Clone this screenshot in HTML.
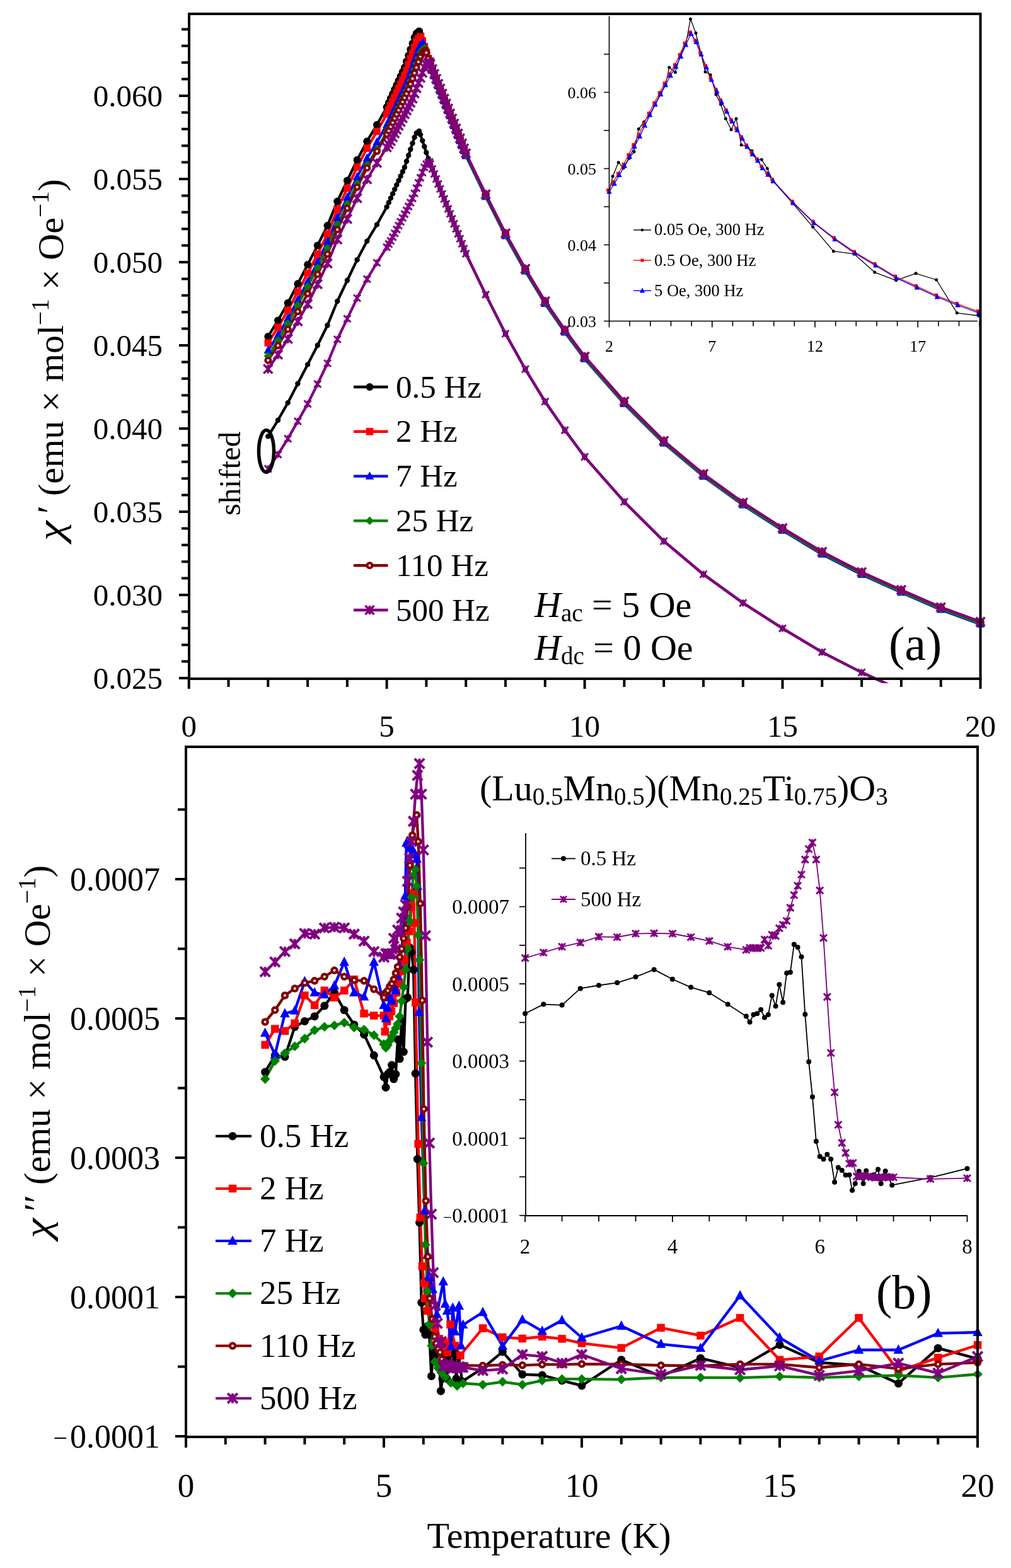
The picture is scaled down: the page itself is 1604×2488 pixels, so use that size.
<!DOCTYPE html>
<html><head><meta charset="utf-8"><style>
html,body{margin:0;padding:0;background:#fff;}
svg{display:block;}
text{font-family:"Liberation Serif","Times New Roman",serif;fill:#000;}
</style></head><body>
<svg width="1604" height="2488" viewBox="0 0 1604 2488">
<rect width="1604" height="2488" fill="#fff"/>
<defs><clipPath id="ctop"><rect x="302" y="24" width="1252" height="1060"/></clipPath><clipPath id="cbot"><rect x="297" y="1187" width="1252" height="1091"/></clipPath></defs>
<g clip-path="url(#ctop)"><polyline points="425.3,692.4 441,666.8 456.7,639.1 472.4,608.7 488.1,578.4 503.8,548 519.5,516.3 535.2,478 550.9,445 566.6,412.2 582.3,382.6 598,356.4 613.6,328.4 616.8,321.4 619.9,314.4 623.1,307.4 626.2,300.4 629.3,293.4 632.5,286.5 635.6,279.5 638.8,272.5 641.9,265.5 645,256 648.2,246.5 651.3,237 654.5,227.4 657.6,217.9 660.7,211.3 663.9,208.9 665.1,208 667,213.6 670.2,223.1 673.3,232.5 676.4,242 679.6,251.4 682.7,260.2 685.9,268.1 689,276 692.1,284 695.3,291.9 698.4,299.8 701.6,307.7 704.7,315.6 707.8,323.5 711,331.4 714.1,339.3 717.3,347.2 720.4,355.1 723.5,363 726.7,370.9 729.8,378.8 733,386.7 736.1,394.6 739.2,402.5 770.6,467.4 802,529.5 833.4,585.8 864.8,637.2 896.2,682.6 927.6,724.9 990.4,796.2 1053.2,858.7 1116,911.3 1178.8,956.7 1241.5,997.1 1304.3,1034.8 1367.1,1067 1429.9,1095.3 1492.7,1122.7 1555.5,1145.7" fill="none" stroke="#000000" stroke-width="4.2" stroke-linejoin="round" stroke-linecap="round"/></g>
<circle cx="425.3" cy="692.4" r="4.2" fill="#000000"/>
<circle cx="441" cy="666.8" r="4.2" fill="#000000"/>
<circle cx="456.7" cy="639.1" r="4.2" fill="#000000"/>
<circle cx="472.4" cy="608.7" r="4.2" fill="#000000"/>
<circle cx="488.1" cy="578.4" r="4.2" fill="#000000"/>
<circle cx="503.8" cy="548" r="4.2" fill="#000000"/>
<circle cx="519.5" cy="516.3" r="4.2" fill="#000000"/>
<circle cx="535.2" cy="478" r="4.2" fill="#000000"/>
<circle cx="550.9" cy="445" r="4.2" fill="#000000"/>
<circle cx="566.6" cy="412.2" r="4.2" fill="#000000"/>
<circle cx="582.3" cy="382.6" r="4.2" fill="#000000"/>
<circle cx="598" cy="356.4" r="4.2" fill="#000000"/>
<circle cx="613.6" cy="328.4" r="4.2" fill="#000000"/>
<circle cx="616.8" cy="321.4" r="4.2" fill="#000000"/>
<circle cx="619.9" cy="314.4" r="4.2" fill="#000000"/>
<circle cx="623.1" cy="307.4" r="4.2" fill="#000000"/>
<circle cx="626.2" cy="300.4" r="4.2" fill="#000000"/>
<circle cx="629.3" cy="293.4" r="4.2" fill="#000000"/>
<circle cx="632.5" cy="286.5" r="4.2" fill="#000000"/>
<circle cx="635.6" cy="279.5" r="4.2" fill="#000000"/>
<circle cx="638.8" cy="272.5" r="4.2" fill="#000000"/>
<circle cx="641.9" cy="265.5" r="4.2" fill="#000000"/>
<circle cx="645" cy="256" r="4.2" fill="#000000"/>
<circle cx="648.2" cy="246.5" r="4.2" fill="#000000"/>
<circle cx="651.3" cy="237" r="4.2" fill="#000000"/>
<circle cx="654.5" cy="227.4" r="4.2" fill="#000000"/>
<circle cx="657.6" cy="217.9" r="4.2" fill="#000000"/>
<circle cx="660.7" cy="211.3" r="4.2" fill="#000000"/>
<circle cx="663.9" cy="208.9" r="4.2" fill="#000000"/>
<circle cx="665.1" cy="208" r="4.2" fill="#000000"/>
<circle cx="667" cy="213.6" r="4.2" fill="#000000"/>
<circle cx="670.2" cy="223.1" r="4.2" fill="#000000"/>
<circle cx="673.3" cy="232.5" r="4.2" fill="#000000"/>
<circle cx="676.4" cy="242" r="4.2" fill="#000000"/>
<circle cx="679.6" cy="251.4" r="4.2" fill="#000000"/>
<circle cx="682.7" cy="260.2" r="4.2" fill="#000000"/>
<circle cx="685.9" cy="268.1" r="4.2" fill="#000000"/>
<circle cx="689" cy="276" r="4.2" fill="#000000"/>
<circle cx="692.1" cy="284" r="4.2" fill="#000000"/>
<circle cx="695.3" cy="291.9" r="4.2" fill="#000000"/>
<circle cx="698.4" cy="299.8" r="4.2" fill="#000000"/>
<circle cx="701.6" cy="307.7" r="4.2" fill="#000000"/>
<circle cx="704.7" cy="315.6" r="4.2" fill="#000000"/>
<circle cx="707.8" cy="323.5" r="4.2" fill="#000000"/>
<circle cx="711" cy="331.4" r="4.2" fill="#000000"/>
<circle cx="714.1" cy="339.3" r="4.2" fill="#000000"/>
<circle cx="717.3" cy="347.2" r="4.2" fill="#000000"/>
<circle cx="720.4" cy="355.1" r="4.2" fill="#000000"/>
<circle cx="723.5" cy="363" r="4.2" fill="#000000"/>
<circle cx="726.7" cy="370.9" r="4.2" fill="#000000"/>
<circle cx="729.8" cy="378.8" r="4.2" fill="#000000"/>
<circle cx="733" cy="386.7" r="4.2" fill="#000000"/>
<circle cx="736.1" cy="394.6" r="4.2" fill="#000000"/>
<circle cx="739.2" cy="402.5" r="4.2" fill="#000000"/>
<circle cx="770.6" cy="467.4" r="4.2" fill="#000000"/>
<circle cx="802" cy="529.5" r="4.2" fill="#000000"/>
<circle cx="833.4" cy="585.8" r="4.2" fill="#000000"/>
<circle cx="864.8" cy="637.2" r="4.2" fill="#000000"/>
<circle cx="896.2" cy="682.6" r="4.2" fill="#000000"/>
<circle cx="927.6" cy="724.9" r="4.2" fill="#000000"/>
<circle cx="990.4" cy="796.2" r="4.2" fill="#000000"/>
<circle cx="1053.2" cy="858.7" r="4.2" fill="#000000"/>
<circle cx="1116" cy="911.3" r="4.2" fill="#000000"/>
<circle cx="1178.8" cy="956.7" r="4.2" fill="#000000"/>
<circle cx="1241.5" cy="997.1" r="4.2" fill="#000000"/>
<circle cx="1304.3" cy="1034.8" r="4.2" fill="#000000"/>
<circle cx="1367.1" cy="1067" r="4.2" fill="#000000"/>
<g clip-path="url(#ctop)"><polyline points="425.3,743.9 441,721.1 456.7,696.1 472.4,668.5 488.1,640.9 503.8,609.4 519.5,576.5 535.2,538.5 550.9,505.8 566.6,473 582.3,442.9 598,417 613.6,392.2 616.8,387.3 619.9,382.3 623.1,376.3 626.2,370.2 629.3,364.1 632.5,358 635.6,351.9 638.8,345.8 641.9,339.7 645,333.7 648.2,327.6 651.3,321.5 654.5,314.9 657.6,306.7 660.7,298.5 663.9,290.2 667,282 670.2,273.8 673.3,265.5 676.4,260.6 679.6,258.4 681.5,257.1 682.7,260.2 685.9,268.1 689,276 692.1,284 695.3,291.9 698.4,299.8 701.6,307.7 704.7,315.6 707.8,323.5 711,331.4 714.1,339.3 717.3,347.2 720.4,355.1 723.5,363 726.7,370.9 729.8,378.8 733,386.7 736.1,394.6 739.2,402.5 770.6,467.4 802,529.5 833.4,585.8 864.8,637.2 896.2,682.6 927.6,724.9 990.4,796.2 1053.2,858.7 1116,911.3 1178.8,956.7 1241.5,997.1 1304.3,1034.8 1367.1,1067 1429.9,1095.3 1492.7,1122.7 1555.5,1145.7" fill="none" stroke="#800080" stroke-width="4.2" stroke-linejoin="round" stroke-linecap="round"/></g>
<path d="M419.8 738.4L430.8 749.4M430.8 738.4L419.8 749.4M425.3 738.4L425.3 749.4" stroke="#800080" stroke-width="2.9" fill="none"/>
<path d="M435.5 715.6L446.5 726.6M446.5 715.6L435.5 726.6M441 715.6L441 726.6" stroke="#800080" stroke-width="2.9" fill="none"/>
<path d="M451.2 690.6L462.2 701.6M462.2 690.6L451.2 701.6M456.7 690.6L456.7 701.6" stroke="#800080" stroke-width="2.9" fill="none"/>
<path d="M466.9 663L477.9 674M477.9 663L466.9 674M472.4 663L472.4 674" stroke="#800080" stroke-width="2.9" fill="none"/>
<path d="M482.6 635.4L493.6 646.4M493.6 635.4L482.6 646.4M488.1 635.4L488.1 646.4" stroke="#800080" stroke-width="2.9" fill="none"/>
<path d="M498.3 603.9L509.3 614.9M509.3 603.9L498.3 614.9M503.8 603.9L503.8 614.9" stroke="#800080" stroke-width="2.9" fill="none"/>
<path d="M514 571L525 582M525 571L514 582M519.5 571L519.5 582" stroke="#800080" stroke-width="2.9" fill="none"/>
<path d="M529.7 533L540.7 544M540.7 533L529.7 544M535.2 533L535.2 544" stroke="#800080" stroke-width="2.9" fill="none"/>
<path d="M545.4 500.3L556.4 511.3M556.4 500.3L545.4 511.3M550.9 500.3L550.9 511.3" stroke="#800080" stroke-width="2.9" fill="none"/>
<path d="M561.1 467.5L572.1 478.5M572.1 467.5L561.1 478.5M566.6 467.5L566.6 478.5" stroke="#800080" stroke-width="2.9" fill="none"/>
<path d="M576.8 437.4L587.8 448.4M587.8 437.4L576.8 448.4M582.3 437.4L582.3 448.4" stroke="#800080" stroke-width="2.9" fill="none"/>
<path d="M592.5 411.5L603.5 422.5M603.5 411.5L592.5 422.5M598 411.5L598 422.5" stroke="#800080" stroke-width="2.9" fill="none"/>
<path d="M608.1 386.7L619.1 397.7M619.1 386.7L608.1 397.7M613.6 386.7L613.6 397.7" stroke="#800080" stroke-width="2.9" fill="none"/>
<path d="M611.3 381.8L622.3 392.8M622.3 381.8L611.3 392.8M616.8 381.8L616.8 392.8" stroke="#800080" stroke-width="2.9" fill="none"/>
<path d="M614.4 376.8L625.4 387.8M625.4 376.8L614.4 387.8M619.9 376.8L619.9 387.8" stroke="#800080" stroke-width="2.9" fill="none"/>
<path d="M617.6 370.8L628.6 381.8M628.6 370.8L617.6 381.8M623.1 370.8L623.1 381.8" stroke="#800080" stroke-width="2.9" fill="none"/>
<path d="M620.7 364.7L631.7 375.7M631.7 364.7L620.7 375.7M626.2 364.7L626.2 375.7" stroke="#800080" stroke-width="2.9" fill="none"/>
<path d="M623.8 358.6L634.8 369.6M634.8 358.6L623.8 369.6M629.3 358.6L629.3 369.6" stroke="#800080" stroke-width="2.9" fill="none"/>
<path d="M627 352.5L638 363.5M638 352.5L627 363.5M632.5 352.5L632.5 363.5" stroke="#800080" stroke-width="2.9" fill="none"/>
<path d="M630.1 346.4L641.1 357.4M641.1 346.4L630.1 357.4M635.6 346.4L635.6 357.4" stroke="#800080" stroke-width="2.9" fill="none"/>
<path d="M633.3 340.3L644.3 351.3M644.3 340.3L633.3 351.3M638.8 340.3L638.8 351.3" stroke="#800080" stroke-width="2.9" fill="none"/>
<path d="M636.4 334.2L647.4 345.2M647.4 334.2L636.4 345.2M641.9 334.2L641.9 345.2" stroke="#800080" stroke-width="2.9" fill="none"/>
<path d="M639.5 328.2L650.5 339.2M650.5 328.2L639.5 339.2M645 328.2L645 339.2" stroke="#800080" stroke-width="2.9" fill="none"/>
<path d="M642.7 322.1L653.7 333.1M653.7 322.1L642.7 333.1M648.2 322.1L648.2 333.1" stroke="#800080" stroke-width="2.9" fill="none"/>
<path d="M645.8 316L656.8 327M656.8 316L645.8 327M651.3 316L651.3 327" stroke="#800080" stroke-width="2.9" fill="none"/>
<path d="M649 309.4L660 320.4M660 309.4L649 320.4M654.5 309.4L654.5 320.4" stroke="#800080" stroke-width="2.9" fill="none"/>
<path d="M652.1 301.2L663.1 312.2M663.1 301.2L652.1 312.2M657.6 301.2L657.6 312.2" stroke="#800080" stroke-width="2.9" fill="none"/>
<path d="M655.2 293L666.2 304M666.2 293L655.2 304M660.7 293L660.7 304" stroke="#800080" stroke-width="2.9" fill="none"/>
<path d="M658.4 284.7L669.4 295.7M669.4 284.7L658.4 295.7M663.9 284.7L663.9 295.7" stroke="#800080" stroke-width="2.9" fill="none"/>
<path d="M661.5 276.5L672.5 287.5M672.5 276.5L661.5 287.5M667 276.5L667 287.5" stroke="#800080" stroke-width="2.9" fill="none"/>
<path d="M664.7 268.3L675.7 279.3M675.7 268.3L664.7 279.3M670.2 268.3L670.2 279.3" stroke="#800080" stroke-width="2.9" fill="none"/>
<path d="M667.8 260L678.8 271M678.8 260L667.8 271M673.3 260L673.3 271" stroke="#800080" stroke-width="2.9" fill="none"/>
<path d="M670.9 255.1L681.9 266.1M681.9 255.1L670.9 266.1M676.4 255.1L676.4 266.1" stroke="#800080" stroke-width="2.9" fill="none"/>
<path d="M674.1 252.9L685.1 263.9M685.1 252.9L674.1 263.9M679.6 252.9L679.6 263.9" stroke="#800080" stroke-width="2.9" fill="none"/>
<path d="M676 251.6L687 262.6M687 251.6L676 262.6M681.5 251.6L681.5 262.6" stroke="#800080" stroke-width="2.9" fill="none"/>
<path d="M677.2 254.7L688.2 265.7M688.2 254.7L677.2 265.7M682.7 254.7L682.7 265.7" stroke="#800080" stroke-width="2.9" fill="none"/>
<path d="M680.4 262.6L691.4 273.6M691.4 262.6L680.4 273.6M685.9 262.6L685.9 273.6" stroke="#800080" stroke-width="2.9" fill="none"/>
<path d="M683.5 270.5L694.5 281.5M694.5 270.5L683.5 281.5M689 270.5L689 281.5" stroke="#800080" stroke-width="2.9" fill="none"/>
<path d="M686.6 278.5L697.6 289.5M697.6 278.5L686.6 289.5M692.1 278.5L692.1 289.5" stroke="#800080" stroke-width="2.9" fill="none"/>
<path d="M689.8 286.4L700.8 297.4M700.8 286.4L689.8 297.4M695.3 286.4L695.3 297.4" stroke="#800080" stroke-width="2.9" fill="none"/>
<path d="M692.9 294.3L703.9 305.3M703.9 294.3L692.9 305.3M698.4 294.3L698.4 305.3" stroke="#800080" stroke-width="2.9" fill="none"/>
<path d="M696.1 302.2L707.1 313.2M707.1 302.2L696.1 313.2M701.6 302.2L701.6 313.2" stroke="#800080" stroke-width="2.9" fill="none"/>
<path d="M699.2 310.1L710.2 321.1M710.2 310.1L699.2 321.1M704.7 310.1L704.7 321.1" stroke="#800080" stroke-width="2.9" fill="none"/>
<path d="M702.3 318L713.3 329M713.3 318L702.3 329M707.8 318L707.8 329" stroke="#800080" stroke-width="2.9" fill="none"/>
<path d="M705.5 325.9L716.5 336.9M716.5 325.9L705.5 336.9M711 325.9L711 336.9" stroke="#800080" stroke-width="2.9" fill="none"/>
<path d="M708.6 333.8L719.6 344.8M719.6 333.8L708.6 344.8M714.1 333.8L714.1 344.8" stroke="#800080" stroke-width="2.9" fill="none"/>
<path d="M711.8 341.7L722.8 352.7M722.8 341.7L711.8 352.7M717.3 341.7L717.3 352.7" stroke="#800080" stroke-width="2.9" fill="none"/>
<path d="M714.9 349.6L725.9 360.6M725.9 349.6L714.9 360.6M720.4 349.6L720.4 360.6" stroke="#800080" stroke-width="2.9" fill="none"/>
<path d="M718 357.5L729 368.5M729 357.5L718 368.5M723.5 357.5L723.5 368.5" stroke="#800080" stroke-width="2.9" fill="none"/>
<path d="M721.2 365.4L732.2 376.4M732.2 365.4L721.2 376.4M726.7 365.4L726.7 376.4" stroke="#800080" stroke-width="2.9" fill="none"/>
<path d="M724.3 373.3L735.3 384.3M735.3 373.3L724.3 384.3M729.8 373.3L729.8 384.3" stroke="#800080" stroke-width="2.9" fill="none"/>
<path d="M727.5 381.2L738.5 392.2M738.5 381.2L727.5 392.2M733 381.2L733 392.2" stroke="#800080" stroke-width="2.9" fill="none"/>
<path d="M730.6 389.1L741.6 400.1M741.6 389.1L730.6 400.1M736.1 389.1L736.1 400.1" stroke="#800080" stroke-width="2.9" fill="none"/>
<path d="M733.7 397L744.7 408M744.7 397L733.7 408M739.2 397L739.2 408" stroke="#800080" stroke-width="2.9" fill="none"/>
<path d="M765.1 461.9L776.1 472.9M776.1 461.9L765.1 472.9M770.6 461.9L770.6 472.9" stroke="#800080" stroke-width="2.9" fill="none"/>
<path d="M796.5 524L807.5 535M807.5 524L796.5 535M802 524L802 535" stroke="#800080" stroke-width="2.9" fill="none"/>
<path d="M827.9 580.3L838.9 591.3M838.9 580.3L827.9 591.3M833.4 580.3L833.4 591.3" stroke="#800080" stroke-width="2.9" fill="none"/>
<path d="M859.3 631.7L870.3 642.7M870.3 631.7L859.3 642.7M864.8 631.7L864.8 642.7" stroke="#800080" stroke-width="2.9" fill="none"/>
<path d="M890.7 677.1L901.7 688.1M901.7 677.1L890.7 688.1M896.2 677.1L896.2 688.1" stroke="#800080" stroke-width="2.9" fill="none"/>
<path d="M922.1 719.4L933.1 730.4M933.1 719.4L922.1 730.4M927.6 719.4L927.6 730.4" stroke="#800080" stroke-width="2.9" fill="none"/>
<path d="M984.9 790.7L995.9 801.7M995.9 790.7L984.9 801.7M990.4 790.7L990.4 801.7" stroke="#800080" stroke-width="2.9" fill="none"/>
<path d="M1047.7 853.2L1058.7 864.2M1058.7 853.2L1047.7 864.2M1053.2 853.2L1053.2 864.2" stroke="#800080" stroke-width="2.9" fill="none"/>
<path d="M1110.5 905.8L1121.5 916.8M1121.5 905.8L1110.5 916.8M1116 905.8L1116 916.8" stroke="#800080" stroke-width="2.9" fill="none"/>
<path d="M1173.3 951.2L1184.3 962.2M1184.3 951.2L1173.3 962.2M1178.8 951.2L1178.8 962.2" stroke="#800080" stroke-width="2.9" fill="none"/>
<path d="M1236 991.6L1247 1002.6M1247 991.6L1236 1002.6M1241.5 991.6L1241.5 1002.6" stroke="#800080" stroke-width="2.9" fill="none"/>
<path d="M1298.8 1029.3L1309.8 1040.3M1309.8 1029.3L1298.8 1040.3M1304.3 1029.3L1304.3 1040.3" stroke="#800080" stroke-width="2.9" fill="none"/>
<path d="M1361.6 1061.5L1372.6 1072.5M1372.6 1061.5L1361.6 1072.5M1367.1 1061.5L1367.1 1072.5" stroke="#800080" stroke-width="2.9" fill="none"/>
<polyline points="425.3,534 441,508.4 456.7,480.7 472.4,450.3 488.1,420 503.8,389.6 519.5,357.9 535.2,319.6 550.9,286.6 566.6,253.8 582.3,224.2 598,198 613.6,170 616.8,163 619.9,156 623.1,149 626.2,142 629.3,135 632.5,128.1 635.6,121.1 638.8,114.1 641.9,107.1 645,97.6 648.2,88.1 651.3,78.6 654.5,69 657.6,59.5 660.7,52.9 663.9,50.5 665.1,49.6 667,55.2 670.2,64.7 673.3,74.1 676.4,83.6 679.6,93 682.7,101.8 685.9,109.7 689,117.6 692.1,125.6 695.3,133.5 698.4,141.4 701.6,149.3 704.7,157.2 707.8,165.1 711,173 714.1,180.9 717.3,188.8 720.4,196.7 723.5,204.6 726.7,212.5 729.8,220.4 733,228.3 736.1,236.2 739.2,244.1 770.6,309 802,371.1 833.4,427.4 864.8,478.8 896.2,524.2 927.6,566.5 990.4,637.8 1053.2,700.3 1116,752.9 1178.8,798.3 1241.5,838.7 1304.3,876.4 1367.1,908.6 1429.9,936.9 1492.7,964.3 1555.5,987.3" fill="none" stroke="#000000" stroke-width="4.2" stroke-linejoin="round" stroke-linecap="round"/>
<polyline points="425.3,544 441,519.4 456.7,492.6 472.4,463.1 488.1,433.7 503.8,403.2 519.5,371.4 535.2,332.4 550.9,298.7 566.6,265.4 582.3,235.2 598,208.6 613.6,181.1 616.8,174.4 619.9,167.6 623.1,160.8 626.2,154 629.3,147.2 632.5,140.4 635.6,133.6 638.8,126.8 641.9,120 645,111.9 648.2,102.6 651.3,93.4 654.5,84.2 657.6,74.9 660.7,65.7 663.9,61.1 667,58.8 667.6,58.3 670.2,64.6 673.3,74 676.4,83.3 679.6,92.7 682.7,101.4 685.9,109.2 689,117.1 692.1,125 695.3,132.9 698.4,140.8 701.6,148.7 704.7,156.6 707.8,164.6 711,172.5 714.1,180.4 717.3,188.3 720.4,196.2 723.5,204.1 726.7,212 729.8,219.9 733,227.8 736.1,235.7 739.2,243.6 770.6,308.5 802,370.6 833.4,426.8 864.8,478.3 896.2,523.7 927.6,566 990.4,637.2 1053.2,699.8 1116,752.3 1178.8,797.7 1241.5,838.1 1304.3,875.9 1367.1,908.1 1429.9,936.3 1492.7,963.8 1555.5,986.8" fill="none" stroke="#ff0000" stroke-width="4.2" stroke-linejoin="round" stroke-linecap="round"/>
<polyline points="425.3,555.9 441,531.6 456.7,505.2 472.4,476.2 488.1,447.2 503.8,416 519.5,383.5 535.2,345.8 550.9,313.3 566.6,280.7 582.3,251 598,225.4 613.6,197.9 616.8,192.4 619.9,185.8 623.1,179 626.2,172.2 629.3,165.4 632.5,158.6 635.6,151.7 638.8,144.9 641.9,138.1 645,131.3 648.2,123.6 651.3,114.4 654.5,105.1 657.6,95.9 660.7,86.7 663.9,77.5 667,71.7 670.2,69.3 671.4,68.3 673.3,74.4 676.4,84.4 679.6,94.4 682.7,103.7 685.9,112.2 689,120.6 692.1,128.7 695.3,136.6 698.4,144.5 701.6,152.4 704.7,160.3 707.8,168.2 711,176.2 714.1,184.1 717.3,192 720.4,199.9 723.5,207.8 726.7,215.7 729.8,223.6 733,231.5 736.1,239.4 739.2,247.3 770.6,312.2 802,374.3 833.4,430.5 864.8,482 896.2,527.4 927.6,569.6 990.4,640.9 1053.2,703.5 1116,756 1178.8,801.4 1241.5,841.8 1304.3,879.6 1367.1,911.8 1429.9,940 1492.7,967.5 1555.5,990.5" fill="none" stroke="#0000ff" stroke-width="4.2" stroke-linejoin="round" stroke-linecap="round"/>
<polyline points="425.3,564.9 441,540.2 456.7,513.4 472.4,484 488.1,454.5 503.8,424.7 519.5,393.6 535.2,356.1 550.9,323.8 566.6,291.5 582.3,262 598,236.7 613.6,209.4 616.8,203.9 619.9,197.6 623.1,190.9 626.2,184.1 629.3,177.4 632.5,170.7 635.6,164 638.8,157.2 641.9,150.5 645,143.8 648.2,137 651.3,128.3 654.5,119.2 657.6,110.2 660.7,101.1 663.9,92 667,83 670.2,78.9 673.3,76.5 673.9,76 676.4,83.8 679.6,93.6 682.7,102.8 685.9,111.1 689,119.3 692.1,127.6 695.3,135.6 698.4,143.5 701.6,151.4 704.7,159.3 707.8,167.2 711,175.1 714.1,183 717.3,190.9 720.4,198.8 723.5,206.7 726.7,214.6 729.8,222.5 733,230.4 736.1,238.3 739.2,246.2 770.6,311.1 802,373.2 833.4,429.5 864.8,480.9 896.2,526.4 927.6,568.6 990.4,639.9 1053.2,702.4 1116,755 1178.8,800.4 1241.5,840.8 1304.3,878.5 1367.1,910.7 1429.9,939 1492.7,966.4 1555.5,989.4" fill="none" stroke="#008000" stroke-width="4.2" stroke-linejoin="round" stroke-linecap="round"/>
<polyline points="425.3,571.8 441,548.2 456.7,522.5 472.4,494.2 488.1,465.9 503.8,435.3 519.5,403.3 535.2,364.3 550.9,330.5 566.6,296.9 582.3,266.5 598,239.9 613.6,213.1 616.8,207.5 619.9,200.9 623.1,194.4 626.2,187.8 629.3,181.3 632.5,174.7 635.6,168.2 638.8,161.6 641.9,155 645,148.5 648.2,141.9 651.3,133.4 654.5,124.7 657.6,115.9 660.7,107.1 663.9,98.3 667,89.6 670.2,83.7 673.3,81.2 675.2,79.7 676.4,83.5 679.6,92.9 682.7,101.6 685.9,109.4 689,117.3 692.1,125.1 695.3,132.9 698.4,140.8 701.6,148.7 704.7,156.6 707.8,164.6 711,172.5 714.1,180.4 717.3,188.3 720.4,196.2 723.5,204.1 726.7,212 729.8,219.9 733,227.8 736.1,235.7 739.2,243.6 770.6,308.5 802,370.6 833.4,426.8 864.8,478.3 896.2,523.7 927.6,566 990.4,637.2 1053.2,699.8 1116,752.3 1178.8,797.7 1241.5,838.1 1304.3,875.9 1367.1,908.1 1429.9,936.3 1492.7,963.8 1555.5,986.8" fill="none" stroke="#800000" stroke-width="4.2" stroke-linejoin="round" stroke-linecap="round"/>
<polyline points="425.3,585.5 441,562.7 456.7,537.7 472.4,510.1 488.1,482.5 503.8,451 519.5,418.1 535.2,380.1 550.9,347.4 566.6,314.6 582.3,284.5 598,258.6 613.6,233.8 616.8,228.9 619.9,223.9 623.1,217.9 626.2,211.8 629.3,205.7 632.5,199.6 635.6,193.5 638.8,187.4 641.9,181.3 645,175.3 648.2,169.2 651.3,163.1 654.5,156.5 657.6,148.3 660.7,140.1 663.9,131.8 667,123.6 670.2,115.4 673.3,107.1 676.4,102.2 679.6,100 681.5,98.7 682.7,101.8 685.9,109.6 689,117.3 692.1,125.1 695.3,132.9 698.4,140.6 701.6,148.5 704.7,156.4 707.8,164.3 711,172.2 714.1,180.1 717.3,188 720.4,195.9 723.5,203.8 726.7,211.7 729.8,219.6 733,227.5 736.1,235.4 739.2,243.3 770.6,308.2 802,370.3 833.4,426.6 864.8,478 896.2,523.4 927.6,565.7 990.4,637 1053.2,699.5 1116,752.1 1178.8,797.5 1241.5,837.9 1304.3,875.6 1367.1,907.8 1429.9,936.1 1492.7,963.5 1555.5,986.5" fill="none" stroke="#800080" stroke-width="4.2" stroke-linejoin="round" stroke-linecap="round"/>
<circle cx="425.3" cy="534" r="6" fill="#000000"/>
<circle cx="441" cy="508.4" r="6" fill="#000000"/>
<circle cx="456.7" cy="480.7" r="6" fill="#000000"/>
<circle cx="472.4" cy="450.3" r="6" fill="#000000"/>
<circle cx="488.1" cy="420" r="6" fill="#000000"/>
<circle cx="503.8" cy="389.6" r="6" fill="#000000"/>
<circle cx="519.5" cy="357.9" r="6" fill="#000000"/>
<circle cx="535.2" cy="319.6" r="6" fill="#000000"/>
<circle cx="550.9" cy="286.6" r="6" fill="#000000"/>
<circle cx="566.6" cy="253.8" r="6" fill="#000000"/>
<circle cx="582.3" cy="224.2" r="6" fill="#000000"/>
<circle cx="598" cy="198" r="6" fill="#000000"/>
<circle cx="613.6" cy="170" r="6" fill="#000000"/>
<circle cx="616.8" cy="163" r="6" fill="#000000"/>
<circle cx="619.9" cy="156" r="6" fill="#000000"/>
<circle cx="623.1" cy="149" r="6" fill="#000000"/>
<circle cx="626.2" cy="142" r="6" fill="#000000"/>
<circle cx="629.3" cy="135" r="6" fill="#000000"/>
<circle cx="632.5" cy="128.1" r="6" fill="#000000"/>
<circle cx="635.6" cy="121.1" r="6" fill="#000000"/>
<circle cx="638.8" cy="114.1" r="6" fill="#000000"/>
<circle cx="641.9" cy="107.1" r="6" fill="#000000"/>
<circle cx="645" cy="97.6" r="6" fill="#000000"/>
<circle cx="648.2" cy="88.1" r="6" fill="#000000"/>
<circle cx="651.3" cy="78.6" r="6" fill="#000000"/>
<circle cx="654.5" cy="69" r="6" fill="#000000"/>
<circle cx="657.6" cy="59.5" r="6" fill="#000000"/>
<circle cx="660.7" cy="52.9" r="6" fill="#000000"/>
<circle cx="663.9" cy="50.5" r="6" fill="#000000"/>
<circle cx="665.1" cy="49.6" r="6" fill="#000000"/>
<circle cx="667" cy="55.2" r="6" fill="#000000"/>
<circle cx="670.2" cy="64.7" r="6" fill="#000000"/>
<circle cx="673.3" cy="74.1" r="6" fill="#000000"/>
<circle cx="676.4" cy="83.6" r="6" fill="#000000"/>
<circle cx="679.6" cy="93" r="6" fill="#000000"/>
<circle cx="682.7" cy="101.8" r="6" fill="#000000"/>
<circle cx="685.9" cy="109.7" r="6" fill="#000000"/>
<circle cx="689" cy="117.6" r="6" fill="#000000"/>
<circle cx="692.1" cy="125.6" r="6" fill="#000000"/>
<circle cx="695.3" cy="133.5" r="6" fill="#000000"/>
<circle cx="698.4" cy="141.4" r="6" fill="#000000"/>
<circle cx="701.6" cy="149.3" r="6" fill="#000000"/>
<circle cx="704.7" cy="157.2" r="6" fill="#000000"/>
<circle cx="707.8" cy="165.1" r="6" fill="#000000"/>
<circle cx="711" cy="173" r="6" fill="#000000"/>
<circle cx="714.1" cy="180.9" r="6" fill="#000000"/>
<circle cx="717.3" cy="188.8" r="6" fill="#000000"/>
<circle cx="720.4" cy="196.7" r="6" fill="#000000"/>
<circle cx="723.5" cy="204.6" r="6" fill="#000000"/>
<circle cx="726.7" cy="212.5" r="6" fill="#000000"/>
<circle cx="729.8" cy="220.4" r="6" fill="#000000"/>
<circle cx="733" cy="228.3" r="6" fill="#000000"/>
<circle cx="736.1" cy="236.2" r="6" fill="#000000"/>
<circle cx="739.2" cy="244.1" r="6" fill="#000000"/>
<circle cx="770.6" cy="309" r="6" fill="#000000"/>
<circle cx="802" cy="371.1" r="6" fill="#000000"/>
<circle cx="833.4" cy="427.4" r="6" fill="#000000"/>
<circle cx="864.8" cy="478.8" r="6" fill="#000000"/>
<circle cx="896.2" cy="524.2" r="6" fill="#000000"/>
<circle cx="927.6" cy="566.5" r="6" fill="#000000"/>
<circle cx="990.4" cy="637.8" r="6" fill="#000000"/>
<circle cx="1053.2" cy="700.3" r="6" fill="#000000"/>
<circle cx="1116" cy="752.9" r="6" fill="#000000"/>
<circle cx="1178.8" cy="798.3" r="6" fill="#000000"/>
<circle cx="1241.5" cy="838.7" r="6" fill="#000000"/>
<circle cx="1304.3" cy="876.4" r="6" fill="#000000"/>
<circle cx="1367.1" cy="908.6" r="6" fill="#000000"/>
<circle cx="1429.9" cy="936.9" r="6" fill="#000000"/>
<circle cx="1492.7" cy="964.3" r="6" fill="#000000"/>
<circle cx="1555.5" cy="987.3" r="6" fill="#000000"/>
<rect x="419.5" y="538.3" width="11.5" height="11.5" fill="#ff0000"/>
<rect x="435.2" y="513.6" width="11.5" height="11.5" fill="#ff0000"/>
<rect x="450.9" y="486.8" width="11.5" height="11.5" fill="#ff0000"/>
<rect x="466.6" y="457.4" width="11.5" height="11.5" fill="#ff0000"/>
<rect x="482.3" y="427.9" width="11.5" height="11.5" fill="#ff0000"/>
<rect x="498" y="397.4" width="11.5" height="11.5" fill="#ff0000"/>
<rect x="513.7" y="365.6" width="11.5" height="11.5" fill="#ff0000"/>
<rect x="529.4" y="326.7" width="11.5" height="11.5" fill="#ff0000"/>
<rect x="545.1" y="293" width="11.5" height="11.5" fill="#ff0000"/>
<rect x="560.8" y="259.6" width="11.5" height="11.5" fill="#ff0000"/>
<rect x="576.5" y="229.5" width="11.5" height="11.5" fill="#ff0000"/>
<rect x="592.2" y="202.8" width="11.5" height="11.5" fill="#ff0000"/>
<rect x="607.9" y="175.4" width="11.5" height="11.5" fill="#ff0000"/>
<rect x="611" y="168.6" width="11.5" height="11.5" fill="#ff0000"/>
<rect x="614.2" y="161.8" width="11.5" height="11.5" fill="#ff0000"/>
<rect x="617.3" y="155" width="11.5" height="11.5" fill="#ff0000"/>
<rect x="620.5" y="148.2" width="11.5" height="11.5" fill="#ff0000"/>
<rect x="623.6" y="141.4" width="11.5" height="11.5" fill="#ff0000"/>
<rect x="626.7" y="134.6" width="11.5" height="11.5" fill="#ff0000"/>
<rect x="629.9" y="127.8" width="11.5" height="11.5" fill="#ff0000"/>
<rect x="633" y="121" width="11.5" height="11.5" fill="#ff0000"/>
<rect x="636.2" y="114.2" width="11.5" height="11.5" fill="#ff0000"/>
<rect x="639.3" y="106.1" width="11.5" height="11.5" fill="#ff0000"/>
<rect x="642.4" y="96.9" width="11.5" height="11.5" fill="#ff0000"/>
<rect x="645.6" y="87.6" width="11.5" height="11.5" fill="#ff0000"/>
<rect x="648.7" y="78.4" width="11.5" height="11.5" fill="#ff0000"/>
<rect x="651.9" y="69.2" width="11.5" height="11.5" fill="#ff0000"/>
<rect x="655" y="59.9" width="11.5" height="11.5" fill="#ff0000"/>
<rect x="658.1" y="55.4" width="11.5" height="11.5" fill="#ff0000"/>
<rect x="661.3" y="53" width="11.5" height="11.5" fill="#ff0000"/>
<rect x="661.9" y="52.5" width="11.5" height="11.5" fill="#ff0000"/>
<rect x="664.4" y="58.9" width="11.5" height="11.5" fill="#ff0000"/>
<rect x="667.6" y="68.2" width="11.5" height="11.5" fill="#ff0000"/>
<rect x="670.7" y="77.6" width="11.5" height="11.5" fill="#ff0000"/>
<rect x="673.8" y="86.9" width="11.5" height="11.5" fill="#ff0000"/>
<rect x="677" y="95.7" width="11.5" height="11.5" fill="#ff0000"/>
<rect x="680.1" y="103.5" width="11.5" height="11.5" fill="#ff0000"/>
<rect x="683.2" y="111.4" width="11.5" height="11.5" fill="#ff0000"/>
<rect x="686.4" y="119.3" width="11.5" height="11.5" fill="#ff0000"/>
<rect x="689.5" y="127.2" width="11.5" height="11.5" fill="#ff0000"/>
<rect x="692.7" y="135.1" width="11.5" height="11.5" fill="#ff0000"/>
<rect x="695.8" y="143" width="11.5" height="11.5" fill="#ff0000"/>
<rect x="698.9" y="150.9" width="11.5" height="11.5" fill="#ff0000"/>
<rect x="702.1" y="158.8" width="11.5" height="11.5" fill="#ff0000"/>
<rect x="705.2" y="166.7" width="11.5" height="11.5" fill="#ff0000"/>
<rect x="708.4" y="174.6" width="11.5" height="11.5" fill="#ff0000"/>
<rect x="711.5" y="182.5" width="11.5" height="11.5" fill="#ff0000"/>
<rect x="714.6" y="190.4" width="11.5" height="11.5" fill="#ff0000"/>
<rect x="717.8" y="198.3" width="11.5" height="11.5" fill="#ff0000"/>
<rect x="720.9" y="206.2" width="11.5" height="11.5" fill="#ff0000"/>
<rect x="724.1" y="214.1" width="11.5" height="11.5" fill="#ff0000"/>
<rect x="727.2" y="222" width="11.5" height="11.5" fill="#ff0000"/>
<rect x="730.3" y="230" width="11.5" height="11.5" fill="#ff0000"/>
<rect x="733.5" y="237.9" width="11.5" height="11.5" fill="#ff0000"/>
<rect x="764.9" y="302.7" width="11.5" height="11.5" fill="#ff0000"/>
<rect x="796.3" y="364.8" width="11.5" height="11.5" fill="#ff0000"/>
<rect x="827.7" y="421.1" width="11.5" height="11.5" fill="#ff0000"/>
<rect x="859.1" y="472.6" width="11.5" height="11.5" fill="#ff0000"/>
<rect x="890.5" y="518" width="11.5" height="11.5" fill="#ff0000"/>
<rect x="921.8" y="560.2" width="11.5" height="11.5" fill="#ff0000"/>
<rect x="984.6" y="631.5" width="11.5" height="11.5" fill="#ff0000"/>
<rect x="1047.4" y="694" width="11.5" height="11.5" fill="#ff0000"/>
<rect x="1110.2" y="746.6" width="11.5" height="11.5" fill="#ff0000"/>
<rect x="1173" y="792" width="11.5" height="11.5" fill="#ff0000"/>
<rect x="1235.8" y="832.4" width="11.5" height="11.5" fill="#ff0000"/>
<rect x="1298.6" y="870.1" width="11.5" height="11.5" fill="#ff0000"/>
<rect x="1361.4" y="902.3" width="11.5" height="11.5" fill="#ff0000"/>
<rect x="1424.2" y="930.6" width="11.5" height="11.5" fill="#ff0000"/>
<rect x="1487" y="958" width="11.5" height="11.5" fill="#ff0000"/>
<rect x="1549.8" y="981" width="11.5" height="11.5" fill="#ff0000"/>
<polygon points="425.3,548.2 418.5,561.1 432,561.1" fill="#0000ff"/>
<polygon points="441,523.9 434.2,536.8 447.7,536.8" fill="#0000ff"/>
<polygon points="456.7,497.5 449.9,510.4 463.4,510.4" fill="#0000ff"/>
<polygon points="472.4,468.5 465.6,481.3 479.1,481.3" fill="#0000ff"/>
<polygon points="488.1,439.5 481.3,452.3 494.8,452.3" fill="#0000ff"/>
<polygon points="503.8,408.3 497,421.1 510.5,421.1" fill="#0000ff"/>
<polygon points="519.5,375.8 512.7,388.7 526.2,388.7" fill="#0000ff"/>
<polygon points="535.2,338.1 528.4,350.9 541.9,350.9" fill="#0000ff"/>
<polygon points="550.9,305.6 544.1,318.4 557.6,318.4" fill="#0000ff"/>
<polygon points="566.6,273 559.8,285.9 573.3,285.9" fill="#0000ff"/>
<polygon points="582.3,243.3 575.5,256.1 589,256.1" fill="#0000ff"/>
<polygon points="598,217.7 591.2,230.5 604.7,230.5" fill="#0000ff"/>
<polygon points="613.6,190.2 606.9,203.1 620.4,203.1" fill="#0000ff"/>
<polygon points="616.8,184.7 610,197.6 623.5,197.6" fill="#0000ff"/>
<polygon points="619.9,178.1 613.2,190.9 626.7,190.9" fill="#0000ff"/>
<polygon points="623.1,171.3 616.3,184.1 629.8,184.1" fill="#0000ff"/>
<polygon points="626.2,164.5 619.5,177.3 633,177.3" fill="#0000ff"/>
<polygon points="629.3,157.7 622.6,170.5 636.1,170.5" fill="#0000ff"/>
<polygon points="632.5,150.9 625.7,163.7 639.2,163.7" fill="#0000ff"/>
<polygon points="635.6,144.1 628.9,156.9 642.4,156.9" fill="#0000ff"/>
<polygon points="638.8,137.3 632,150.1 645.5,150.1" fill="#0000ff"/>
<polygon points="641.9,130.4 635.2,143.3 648.7,143.3" fill="#0000ff"/>
<polygon points="645,123.6 638.3,136.5 651.8,136.5" fill="#0000ff"/>
<polygon points="648.2,115.9 641.4,128.7 654.9,128.7" fill="#0000ff"/>
<polygon points="651.3,106.7 644.6,119.5 658.1,119.5" fill="#0000ff"/>
<polygon points="654.5,97.4 647.7,110.3 661.2,110.3" fill="#0000ff"/>
<polygon points="657.6,88.2 650.9,101.1 664.4,101.1" fill="#0000ff"/>
<polygon points="660.7,79 654,91.8 667.5,91.8" fill="#0000ff"/>
<polygon points="663.9,69.8 657.1,82.6 670.6,82.6" fill="#0000ff"/>
<polygon points="667,64 660.3,76.8 673.8,76.8" fill="#0000ff"/>
<polygon points="670.2,61.6 663.4,74.4 676.9,74.4" fill="#0000ff"/>
<polygon points="671.4,60.6 664.7,73.4 678.2,73.4" fill="#0000ff"/>
<polygon points="673.3,66.7 666.6,79.6 680.1,79.6" fill="#0000ff"/>
<polygon points="676.4,76.7 669.7,89.5 683.2,89.5" fill="#0000ff"/>
<polygon points="679.6,86.7 672.8,99.5 686.3,99.5" fill="#0000ff"/>
<polygon points="682.7,96 676,108.9 689.5,108.9" fill="#0000ff"/>
<polygon points="685.9,104.5 679.1,117.3 692.6,117.3" fill="#0000ff"/>
<polygon points="689,112.9 682.2,125.7 695.7,125.7" fill="#0000ff"/>
<polygon points="692.1,121 685.4,133.8 698.9,133.8" fill="#0000ff"/>
<polygon points="695.3,128.9 688.5,141.8 702,141.8" fill="#0000ff"/>
<polygon points="698.4,136.8 691.7,149.7 705.2,149.7" fill="#0000ff"/>
<polygon points="701.6,144.7 694.8,157.6 708.3,157.6" fill="#0000ff"/>
<polygon points="704.7,152.6 697.9,165.5 711.4,165.5" fill="#0000ff"/>
<polygon points="707.8,160.6 701.1,173.4 714.6,173.4" fill="#0000ff"/>
<polygon points="711,168.5 704.2,181.3 717.7,181.3" fill="#0000ff"/>
<polygon points="714.1,176.4 707.4,189.2 720.9,189.2" fill="#0000ff"/>
<polygon points="717.3,184.3 710.5,197.1 724,197.1" fill="#0000ff"/>
<polygon points="720.4,192.2 713.6,205 727.1,205" fill="#0000ff"/>
<polygon points="723.5,200.1 716.8,212.9 730.3,212.9" fill="#0000ff"/>
<polygon points="726.7,208 719.9,220.8 733.4,220.8" fill="#0000ff"/>
<polygon points="729.8,215.9 723.1,228.7 736.6,228.7" fill="#0000ff"/>
<polygon points="733,223.8 726.2,236.6 739.7,236.6" fill="#0000ff"/>
<polygon points="736.1,231.7 729.3,244.5 742.8,244.5" fill="#0000ff"/>
<polygon points="739.2,239.6 732.5,252.4 746,252.4" fill="#0000ff"/>
<polygon points="770.6,304.5 763.9,317.3 777.4,317.3" fill="#0000ff"/>
<polygon points="802,366.6 795.3,379.4 808.8,379.4" fill="#0000ff"/>
<polygon points="833.4,422.8 826.7,435.6 840.2,435.6" fill="#0000ff"/>
<polygon points="864.8,474.3 858.1,487.1 871.6,487.1" fill="#0000ff"/>
<polygon points="896.2,519.7 889.5,532.5 903,532.5" fill="#0000ff"/>
<polygon points="927.6,562 920.8,574.8 934.3,574.8" fill="#0000ff"/>
<polygon points="990.4,633.2 983.6,646.1 997.1,646.1" fill="#0000ff"/>
<polygon points="1053.2,695.8 1046.4,708.6 1059.9,708.6" fill="#0000ff"/>
<polygon points="1116,748.3 1109.2,761.2 1122.7,761.2" fill="#0000ff"/>
<polygon points="1178.8,793.7 1172,806.6 1185.5,806.6" fill="#0000ff"/>
<polygon points="1241.5,834.1 1234.8,847 1248.3,847" fill="#0000ff"/>
<polygon points="1304.3,871.9 1297.6,884.7 1311.1,884.7" fill="#0000ff"/>
<polygon points="1367.1,904.1 1360.4,916.9 1373.9,916.9" fill="#0000ff"/>
<polygon points="1429.9,932.3 1423.2,945.2 1436.7,945.2" fill="#0000ff"/>
<polygon points="1492.7,959.8 1486,972.6 1499.5,972.6" fill="#0000ff"/>
<polygon points="1555.5,982.8 1548.8,995.6 1562.2,995.6" fill="#0000ff"/>
<polygon points="425.3,558.1 432,564.9 425.3,571.6 418.5,564.9" fill="#008000"/>
<polygon points="441,533.5 447.7,540.2 441,547 434.2,540.2" fill="#008000"/>
<polygon points="456.7,506.7 463.4,513.4 456.7,520.2 449.9,513.4" fill="#008000"/>
<polygon points="472.4,477.2 479.1,484 472.4,490.7 465.6,484" fill="#008000"/>
<polygon points="488.1,447.8 494.8,454.5 488.1,461.3 481.3,454.5" fill="#008000"/>
<polygon points="503.8,418 510.5,424.7 503.8,431.5 497,424.7" fill="#008000"/>
<polygon points="519.5,386.8 526.2,393.6 519.5,400.3 512.7,393.6" fill="#008000"/>
<polygon points="535.2,349.3 541.9,356.1 535.2,362.8 528.4,356.1" fill="#008000"/>
<polygon points="550.9,317.1 557.6,323.8 550.9,330.6 544.1,323.8" fill="#008000"/>
<polygon points="566.6,284.8 573.3,291.5 566.6,298.3 559.8,291.5" fill="#008000"/>
<polygon points="582.3,255.3 589,262 582.3,268.8 575.5,262" fill="#008000"/>
<polygon points="598,230 604.7,236.7 598,243.5 591.2,236.7" fill="#008000"/>
<polygon points="613.6,202.7 620.4,209.4 613.6,216.2 606.9,209.4" fill="#008000"/>
<polygon points="616.8,197.2 623.5,203.9 616.8,210.7 610,203.9" fill="#008000"/>
<polygon points="619.9,190.9 626.7,197.6 619.9,204.4 613.2,197.6" fill="#008000"/>
<polygon points="623.1,184.1 629.8,190.9 623.1,197.6 616.3,190.9" fill="#008000"/>
<polygon points="626.2,177.4 633,184.1 626.2,190.9 619.5,184.1" fill="#008000"/>
<polygon points="629.3,170.7 636.1,177.4 629.3,184.2 622.6,177.4" fill="#008000"/>
<polygon points="632.5,163.9 639.2,170.7 632.5,177.4 625.7,170.7" fill="#008000"/>
<polygon points="635.6,157.2 642.4,164 635.6,170.7 628.9,164" fill="#008000"/>
<polygon points="638.8,150.5 645.5,157.2 638.8,164 632,157.2" fill="#008000"/>
<polygon points="641.9,143.7 648.7,150.5 641.9,157.2 635.2,150.5" fill="#008000"/>
<polygon points="645,137 651.8,143.8 645,150.5 638.3,143.8" fill="#008000"/>
<polygon points="648.2,130.3 654.9,137 648.2,143.8 641.4,137" fill="#008000"/>
<polygon points="651.3,121.5 658.1,128.3 651.3,135 644.6,128.3" fill="#008000"/>
<polygon points="654.5,112.5 661.2,119.2 654.5,126 647.7,119.2" fill="#008000"/>
<polygon points="657.6,103.4 664.4,110.2 657.6,116.9 650.9,110.2" fill="#008000"/>
<polygon points="660.7,94.3 667.5,101.1 660.7,107.8 654,101.1" fill="#008000"/>
<polygon points="663.9,85.3 670.6,92 663.9,98.8 657.1,92" fill="#008000"/>
<polygon points="667,76.2 673.8,83 667,89.7 660.3,83" fill="#008000"/>
<polygon points="670.2,72.2 676.9,78.9 670.2,85.7 663.4,78.9" fill="#008000"/>
<polygon points="673.3,69.7 680.1,76.5 673.3,83.2 666.6,76.5" fill="#008000"/>
<polygon points="673.9,69.2 680.7,76 673.9,82.7 667.2,76" fill="#008000"/>
<polygon points="676.4,77.1 683.2,83.8 676.4,90.6 669.7,83.8" fill="#008000"/>
<polygon points="679.6,86.9 686.3,93.6 679.6,100.4 672.8,93.6" fill="#008000"/>
<polygon points="682.7,96.1 689.5,102.8 682.7,109.6 676,102.8" fill="#008000"/>
<polygon points="685.9,104.3 692.6,111.1 685.9,117.8 679.1,111.1" fill="#008000"/>
<polygon points="689,112.6 695.7,119.3 689,126.1 682.2,119.3" fill="#008000"/>
<polygon points="692.1,120.8 698.9,127.6 692.1,134.3 685.4,127.6" fill="#008000"/>
<polygon points="695.3,128.8 702,135.6 695.3,142.3 688.5,135.6" fill="#008000"/>
<polygon points="698.4,136.7 705.2,143.5 698.4,150.2 691.7,143.5" fill="#008000"/>
<polygon points="701.6,144.6 708.3,151.4 701.6,158.1 694.8,151.4" fill="#008000"/>
<polygon points="704.7,152.5 711.4,159.3 704.7,166 697.9,159.3" fill="#008000"/>
<polygon points="707.8,160.4 714.6,167.2 707.8,173.9 701.1,167.2" fill="#008000"/>
<polygon points="711,168.3 717.7,175.1 711,181.8 704.2,175.1" fill="#008000"/>
<polygon points="714.1,176.3 720.9,183 714.1,189.8 707.4,183" fill="#008000"/>
<polygon points="717.3,184.2 724,190.9 717.3,197.7 710.5,190.9" fill="#008000"/>
<polygon points="720.4,192.1 727.1,198.8 720.4,205.6 713.6,198.8" fill="#008000"/>
<polygon points="723.5,200 730.3,206.7 723.5,213.5 716.8,206.7" fill="#008000"/>
<polygon points="726.7,207.9 733.4,214.6 726.7,221.4 719.9,214.6" fill="#008000"/>
<polygon points="729.8,215.8 736.6,222.5 729.8,229.3 723.1,222.5" fill="#008000"/>
<polygon points="733,223.7 739.7,230.4 733,237.2 726.2,230.4" fill="#008000"/>
<polygon points="736.1,231.6 742.8,238.3 736.1,245.1 729.3,238.3" fill="#008000"/>
<polygon points="739.2,239.5 746,246.2 739.2,253 732.5,246.2" fill="#008000"/>
<polygon points="770.6,304.4 777.4,311.1 770.6,317.9 763.9,311.1" fill="#008000"/>
<polygon points="802,366.5 808.8,373.2 802,380 795.3,373.2" fill="#008000"/>
<polygon points="833.4,422.7 840.2,429.5 833.4,436.2 826.7,429.5" fill="#008000"/>
<polygon points="864.8,474.2 871.6,480.9 864.8,487.7 858.1,480.9" fill="#008000"/>
<polygon points="896.2,519.6 903,526.4 896.2,533.1 889.5,526.4" fill="#008000"/>
<polygon points="927.6,561.8 934.3,568.6 927.6,575.3 920.8,568.6" fill="#008000"/>
<polygon points="990.4,633.1 997.1,639.9 990.4,646.6 983.6,639.9" fill="#008000"/>
<polygon points="1053.2,695.7 1059.9,702.4 1053.2,709.2 1046.4,702.4" fill="#008000"/>
<polygon points="1116,748.2 1122.7,755 1116,761.7 1109.2,755" fill="#008000"/>
<polygon points="1178.8,793.6 1185.5,800.4 1178.8,807.1 1172,800.4" fill="#008000"/>
<polygon points="1241.5,834 1248.3,840.8 1241.5,847.5 1234.8,840.8" fill="#008000"/>
<polygon points="1304.3,871.8 1311.1,878.5 1304.3,885.3 1297.6,878.5" fill="#008000"/>
<polygon points="1367.1,904 1373.9,910.7 1367.1,917.5 1360.4,910.7" fill="#008000"/>
<polygon points="1429.9,932.2 1436.7,939 1429.9,945.7 1423.2,939" fill="#008000"/>
<polygon points="1492.7,959.7 1499.5,966.4 1492.7,973.2 1486,966.4" fill="#008000"/>
<polygon points="1555.5,982.7 1562.2,989.4 1555.5,996.2 1548.8,989.4" fill="#008000"/>
<circle cx="425.3" cy="571.8" r="4" fill="#fff" stroke="#800000" stroke-width="4.1"/>
<circle cx="441" cy="548.2" r="4" fill="#fff" stroke="#800000" stroke-width="4.1"/>
<circle cx="456.7" cy="522.5" r="4" fill="#fff" stroke="#800000" stroke-width="4.1"/>
<circle cx="472.4" cy="494.2" r="4" fill="#fff" stroke="#800000" stroke-width="4.1"/>
<circle cx="488.1" cy="465.9" r="4" fill="#fff" stroke="#800000" stroke-width="4.1"/>
<circle cx="503.8" cy="435.3" r="4" fill="#fff" stroke="#800000" stroke-width="4.1"/>
<circle cx="519.5" cy="403.3" r="4" fill="#fff" stroke="#800000" stroke-width="4.1"/>
<circle cx="535.2" cy="364.3" r="4" fill="#fff" stroke="#800000" stroke-width="4.1"/>
<circle cx="550.9" cy="330.5" r="4" fill="#fff" stroke="#800000" stroke-width="4.1"/>
<circle cx="566.6" cy="296.9" r="4" fill="#fff" stroke="#800000" stroke-width="4.1"/>
<circle cx="582.3" cy="266.5" r="4" fill="#fff" stroke="#800000" stroke-width="4.1"/>
<circle cx="598" cy="239.9" r="4" fill="#fff" stroke="#800000" stroke-width="4.1"/>
<circle cx="613.6" cy="213.1" r="4" fill="#fff" stroke="#800000" stroke-width="4.1"/>
<circle cx="616.8" cy="207.5" r="4" fill="#fff" stroke="#800000" stroke-width="4.1"/>
<circle cx="619.9" cy="200.9" r="4" fill="#fff" stroke="#800000" stroke-width="4.1"/>
<circle cx="623.1" cy="194.4" r="4" fill="#fff" stroke="#800000" stroke-width="4.1"/>
<circle cx="626.2" cy="187.8" r="4" fill="#fff" stroke="#800000" stroke-width="4.1"/>
<circle cx="629.3" cy="181.3" r="4" fill="#fff" stroke="#800000" stroke-width="4.1"/>
<circle cx="632.5" cy="174.7" r="4" fill="#fff" stroke="#800000" stroke-width="4.1"/>
<circle cx="635.6" cy="168.2" r="4" fill="#fff" stroke="#800000" stroke-width="4.1"/>
<circle cx="638.8" cy="161.6" r="4" fill="#fff" stroke="#800000" stroke-width="4.1"/>
<circle cx="641.9" cy="155" r="4" fill="#fff" stroke="#800000" stroke-width="4.1"/>
<circle cx="645" cy="148.5" r="4" fill="#fff" stroke="#800000" stroke-width="4.1"/>
<circle cx="648.2" cy="141.9" r="4" fill="#fff" stroke="#800000" stroke-width="4.1"/>
<circle cx="651.3" cy="133.4" r="4" fill="#fff" stroke="#800000" stroke-width="4.1"/>
<circle cx="654.5" cy="124.7" r="4" fill="#fff" stroke="#800000" stroke-width="4.1"/>
<circle cx="657.6" cy="115.9" r="4" fill="#fff" stroke="#800000" stroke-width="4.1"/>
<circle cx="660.7" cy="107.1" r="4" fill="#fff" stroke="#800000" stroke-width="4.1"/>
<circle cx="663.9" cy="98.3" r="4" fill="#fff" stroke="#800000" stroke-width="4.1"/>
<circle cx="667" cy="89.6" r="4" fill="#fff" stroke="#800000" stroke-width="4.1"/>
<circle cx="670.2" cy="83.7" r="4" fill="#fff" stroke="#800000" stroke-width="4.1"/>
<circle cx="673.3" cy="81.2" r="4" fill="#fff" stroke="#800000" stroke-width="4.1"/>
<circle cx="675.2" cy="79.7" r="4" fill="#fff" stroke="#800000" stroke-width="4.1"/>
<circle cx="676.4" cy="83.5" r="4" fill="#fff" stroke="#800000" stroke-width="4.1"/>
<circle cx="679.6" cy="92.9" r="4" fill="#fff" stroke="#800000" stroke-width="4.1"/>
<circle cx="682.7" cy="101.6" r="4" fill="#fff" stroke="#800000" stroke-width="4.1"/>
<circle cx="685.9" cy="109.4" r="4" fill="#fff" stroke="#800000" stroke-width="4.1"/>
<circle cx="689" cy="117.3" r="4" fill="#fff" stroke="#800000" stroke-width="4.1"/>
<circle cx="692.1" cy="125.1" r="4" fill="#fff" stroke="#800000" stroke-width="4.1"/>
<circle cx="695.3" cy="132.9" r="4" fill="#fff" stroke="#800000" stroke-width="4.1"/>
<circle cx="698.4" cy="140.8" r="4" fill="#fff" stroke="#800000" stroke-width="4.1"/>
<circle cx="701.6" cy="148.7" r="4" fill="#fff" stroke="#800000" stroke-width="4.1"/>
<circle cx="704.7" cy="156.6" r="4" fill="#fff" stroke="#800000" stroke-width="4.1"/>
<circle cx="707.8" cy="164.6" r="4" fill="#fff" stroke="#800000" stroke-width="4.1"/>
<circle cx="711" cy="172.5" r="4" fill="#fff" stroke="#800000" stroke-width="4.1"/>
<circle cx="714.1" cy="180.4" r="4" fill="#fff" stroke="#800000" stroke-width="4.1"/>
<circle cx="717.3" cy="188.3" r="4" fill="#fff" stroke="#800000" stroke-width="4.1"/>
<circle cx="720.4" cy="196.2" r="4" fill="#fff" stroke="#800000" stroke-width="4.1"/>
<circle cx="723.5" cy="204.1" r="4" fill="#fff" stroke="#800000" stroke-width="4.1"/>
<circle cx="726.7" cy="212" r="4" fill="#fff" stroke="#800000" stroke-width="4.1"/>
<circle cx="729.8" cy="219.9" r="4" fill="#fff" stroke="#800000" stroke-width="4.1"/>
<circle cx="733" cy="227.8" r="4" fill="#fff" stroke="#800000" stroke-width="4.1"/>
<circle cx="736.1" cy="235.7" r="4" fill="#fff" stroke="#800000" stroke-width="4.1"/>
<circle cx="739.2" cy="243.6" r="4" fill="#fff" stroke="#800000" stroke-width="4.1"/>
<circle cx="770.6" cy="308.5" r="4" fill="#fff" stroke="#800000" stroke-width="4.1"/>
<circle cx="802" cy="370.6" r="4" fill="#fff" stroke="#800000" stroke-width="4.1"/>
<circle cx="833.4" cy="426.8" r="4" fill="#fff" stroke="#800000" stroke-width="4.1"/>
<circle cx="864.8" cy="478.3" r="4" fill="#fff" stroke="#800000" stroke-width="4.1"/>
<circle cx="896.2" cy="523.7" r="4" fill="#fff" stroke="#800000" stroke-width="4.1"/>
<circle cx="927.6" cy="566" r="4" fill="#fff" stroke="#800000" stroke-width="4.1"/>
<circle cx="990.4" cy="637.2" r="4" fill="#fff" stroke="#800000" stroke-width="4.1"/>
<circle cx="1053.2" cy="699.8" r="4" fill="#fff" stroke="#800000" stroke-width="4.1"/>
<circle cx="1116" cy="752.3" r="4" fill="#fff" stroke="#800000" stroke-width="4.1"/>
<circle cx="1178.8" cy="797.7" r="4" fill="#fff" stroke="#800000" stroke-width="4.1"/>
<circle cx="1241.5" cy="838.1" r="4" fill="#fff" stroke="#800000" stroke-width="4.1"/>
<circle cx="1304.3" cy="875.9" r="4" fill="#fff" stroke="#800000" stroke-width="4.1"/>
<circle cx="1367.1" cy="908.1" r="4" fill="#fff" stroke="#800000" stroke-width="4.1"/>
<circle cx="1429.9" cy="936.3" r="4" fill="#fff" stroke="#800000" stroke-width="4.1"/>
<circle cx="1492.7" cy="963.8" r="4" fill="#fff" stroke="#800000" stroke-width="4.1"/>
<circle cx="1555.5" cy="986.8" r="4" fill="#fff" stroke="#800000" stroke-width="4.1"/>
<path d="M418.3 578.5L432.3 592.5M432.3 578.5L418.3 592.5M425.3 578.5L425.3 592.5" stroke="#800080" stroke-width="3.6" fill="none"/>
<path d="M434 555.7L448 569.7M448 555.7L434 569.7M441 555.7L441 569.7" stroke="#800080" stroke-width="3.6" fill="none"/>
<path d="M449.7 530.7L463.7 544.7M463.7 530.7L449.7 544.7M456.7 530.7L456.7 544.7" stroke="#800080" stroke-width="3.6" fill="none"/>
<path d="M465.4 503.1L479.4 517.1M479.4 503.1L465.4 517.1M472.4 503.1L472.4 517.1" stroke="#800080" stroke-width="3.6" fill="none"/>
<path d="M481.1 475.5L495.1 489.5M495.1 475.5L481.1 489.5M488.1 475.5L488.1 489.5" stroke="#800080" stroke-width="3.6" fill="none"/>
<path d="M496.8 444L510.8 458M510.8 444L496.8 458M503.8 444L503.8 458" stroke="#800080" stroke-width="3.6" fill="none"/>
<path d="M512.5 411.1L526.5 425.1M526.5 411.1L512.5 425.1M519.5 411.1L519.5 425.1" stroke="#800080" stroke-width="3.6" fill="none"/>
<path d="M528.2 373.1L542.2 387.1M542.2 373.1L528.2 387.1M535.2 373.1L535.2 387.1" stroke="#800080" stroke-width="3.6" fill="none"/>
<path d="M543.9 340.4L557.9 354.4M557.9 340.4L543.9 354.4M550.9 340.4L550.9 354.4" stroke="#800080" stroke-width="3.6" fill="none"/>
<path d="M559.6 307.6L573.6 321.6M573.6 307.6L559.6 321.6M566.6 307.6L566.6 321.6" stroke="#800080" stroke-width="3.6" fill="none"/>
<path d="M575.3 277.5L589.3 291.5M589.3 277.5L575.3 291.5M582.3 277.5L582.3 291.5" stroke="#800080" stroke-width="3.6" fill="none"/>
<path d="M591 251.6L605 265.6M605 251.6L591 265.6M598 251.6L598 265.6" stroke="#800080" stroke-width="3.6" fill="none"/>
<path d="M606.6 226.8L620.6 240.8M620.6 226.8L606.6 240.8M613.6 226.8L613.6 240.8" stroke="#800080" stroke-width="3.6" fill="none"/>
<path d="M609.8 221.9L623.8 235.9M623.8 221.9L609.8 235.9M616.8 221.9L616.8 235.9" stroke="#800080" stroke-width="3.6" fill="none"/>
<path d="M612.9 216.9L626.9 230.9M626.9 216.9L612.9 230.9M619.9 216.9L619.9 230.9" stroke="#800080" stroke-width="3.6" fill="none"/>
<path d="M616.1 210.9L630.1 224.9M630.1 210.9L616.1 224.9M623.1 210.9L623.1 224.9" stroke="#800080" stroke-width="3.6" fill="none"/>
<path d="M619.2 204.8L633.2 218.8M633.2 204.8L619.2 218.8M626.2 204.8L626.2 218.8" stroke="#800080" stroke-width="3.6" fill="none"/>
<path d="M622.3 198.7L636.3 212.7M636.3 198.7L622.3 212.7M629.3 198.7L629.3 212.7" stroke="#800080" stroke-width="3.6" fill="none"/>
<path d="M625.5 192.6L639.5 206.6M639.5 192.6L625.5 206.6M632.5 192.6L632.5 206.6" stroke="#800080" stroke-width="3.6" fill="none"/>
<path d="M628.6 186.5L642.6 200.5M642.6 186.5L628.6 200.5M635.6 186.5L635.6 200.5" stroke="#800080" stroke-width="3.6" fill="none"/>
<path d="M631.8 180.4L645.8 194.4M645.8 180.4L631.8 194.4M638.8 180.4L638.8 194.4" stroke="#800080" stroke-width="3.6" fill="none"/>
<path d="M634.9 174.3L648.9 188.3M648.9 174.3L634.9 188.3M641.9 174.3L641.9 188.3" stroke="#800080" stroke-width="3.6" fill="none"/>
<path d="M638 168.3L652 182.3M652 168.3L638 182.3M645 168.3L645 182.3" stroke="#800080" stroke-width="3.6" fill="none"/>
<path d="M641.2 162.2L655.2 176.2M655.2 162.2L641.2 176.2M648.2 162.2L648.2 176.2" stroke="#800080" stroke-width="3.6" fill="none"/>
<path d="M644.3 156.1L658.3 170.1M658.3 156.1L644.3 170.1M651.3 156.1L651.3 170.1" stroke="#800080" stroke-width="3.6" fill="none"/>
<path d="M647.5 149.5L661.5 163.5M661.5 149.5L647.5 163.5M654.5 149.5L654.5 163.5" stroke="#800080" stroke-width="3.6" fill="none"/>
<path d="M650.6 141.3L664.6 155.3M664.6 141.3L650.6 155.3M657.6 141.3L657.6 155.3" stroke="#800080" stroke-width="3.6" fill="none"/>
<path d="M653.7 133.1L667.7 147.1M667.7 133.1L653.7 147.1M660.7 133.1L660.7 147.1" stroke="#800080" stroke-width="3.6" fill="none"/>
<path d="M656.9 124.8L670.9 138.8M670.9 124.8L656.9 138.8M663.9 124.8L663.9 138.8" stroke="#800080" stroke-width="3.6" fill="none"/>
<path d="M660 116.6L674 130.6M674 116.6L660 130.6M667 116.6L667 130.6" stroke="#800080" stroke-width="3.6" fill="none"/>
<path d="M663.2 108.4L677.2 122.4M677.2 108.4L663.2 122.4M670.2 108.4L670.2 122.4" stroke="#800080" stroke-width="3.6" fill="none"/>
<path d="M666.3 100.1L680.3 114.1M680.3 100.1L666.3 114.1M673.3 100.1L673.3 114.1" stroke="#800080" stroke-width="3.6" fill="none"/>
<path d="M669.4 95.2L683.4 109.2M683.4 95.2L669.4 109.2M676.4 95.2L676.4 109.2" stroke="#800080" stroke-width="3.6" fill="none"/>
<path d="M672.6 93L686.6 107M686.6 93L672.6 107M679.6 93L679.6 107" stroke="#800080" stroke-width="3.6" fill="none"/>
<path d="M674.5 91.7L688.5 105.7M688.5 91.7L674.5 105.7M681.5 91.7L681.5 105.7" stroke="#800080" stroke-width="3.6" fill="none"/>
<path d="M675.7 94.8L689.7 108.8M689.7 94.8L675.7 108.8M682.7 94.8L682.7 108.8" stroke="#800080" stroke-width="3.6" fill="none"/>
<path d="M678.9 102.6L692.9 116.6M692.9 102.6L678.9 116.6M685.9 102.6L685.9 116.6" stroke="#800080" stroke-width="3.6" fill="none"/>
<path d="M682 110.3L696 124.3M696 110.3L682 124.3M689 110.3L689 124.3" stroke="#800080" stroke-width="3.6" fill="none"/>
<path d="M685.1 118.1L699.1 132.1M699.1 118.1L685.1 132.1M692.1 118.1L692.1 132.1" stroke="#800080" stroke-width="3.6" fill="none"/>
<path d="M688.3 125.9L702.3 139.9M702.3 125.9L688.3 139.9M695.3 125.9L695.3 139.9" stroke="#800080" stroke-width="3.6" fill="none"/>
<path d="M691.4 133.6L705.4 147.6M705.4 133.6L691.4 147.6M698.4 133.6L698.4 147.6" stroke="#800080" stroke-width="3.6" fill="none"/>
<path d="M694.6 141.5L708.6 155.5M708.6 141.5L694.6 155.5M701.6 141.5L701.6 155.5" stroke="#800080" stroke-width="3.6" fill="none"/>
<path d="M697.7 149.4L711.7 163.4M711.7 149.4L697.7 163.4M704.7 149.4L704.7 163.4" stroke="#800080" stroke-width="3.6" fill="none"/>
<path d="M700.8 157.3L714.8 171.3M714.8 157.3L700.8 171.3M707.8 157.3L707.8 171.3" stroke="#800080" stroke-width="3.6" fill="none"/>
<path d="M704 165.2L718 179.2M718 165.2L704 179.2M711 165.2L711 179.2" stroke="#800080" stroke-width="3.6" fill="none"/>
<path d="M707.1 173.1L721.1 187.1M721.1 173.1L707.1 187.1M714.1 173.1L714.1 187.1" stroke="#800080" stroke-width="3.6" fill="none"/>
<path d="M710.3 181L724.3 195M724.3 181L710.3 195M717.3 181L717.3 195" stroke="#800080" stroke-width="3.6" fill="none"/>
<path d="M713.4 188.9L727.4 202.9M727.4 188.9L713.4 202.9M720.4 188.9L720.4 202.9" stroke="#800080" stroke-width="3.6" fill="none"/>
<path d="M716.5 196.8L730.5 210.8M730.5 196.8L716.5 210.8M723.5 196.8L723.5 210.8" stroke="#800080" stroke-width="3.6" fill="none"/>
<path d="M719.7 204.7L733.7 218.7M733.7 204.7L719.7 218.7M726.7 204.7L726.7 218.7" stroke="#800080" stroke-width="3.6" fill="none"/>
<path d="M722.8 212.6L736.8 226.6M736.8 212.6L722.8 226.6M729.8 212.6L729.8 226.6" stroke="#800080" stroke-width="3.6" fill="none"/>
<path d="M726 220.5L740 234.5M740 220.5L726 234.5M733 220.5L733 234.5" stroke="#800080" stroke-width="3.6" fill="none"/>
<path d="M729.1 228.4L743.1 242.4M743.1 228.4L729.1 242.4M736.1 228.4L736.1 242.4" stroke="#800080" stroke-width="3.6" fill="none"/>
<path d="M732.2 236.3L746.2 250.3M746.2 236.3L732.2 250.3M739.2 236.3L739.2 250.3" stroke="#800080" stroke-width="3.6" fill="none"/>
<path d="M763.6 301.2L777.6 315.2M777.6 301.2L763.6 315.2M770.6 301.2L770.6 315.2" stroke="#800080" stroke-width="3.6" fill="none"/>
<path d="M795 363.3L809 377.3M809 363.3L795 377.3M802 363.3L802 377.3" stroke="#800080" stroke-width="3.6" fill="none"/>
<path d="M826.4 419.6L840.4 433.6M840.4 419.6L826.4 433.6M833.4 419.6L833.4 433.6" stroke="#800080" stroke-width="3.6" fill="none"/>
<path d="M857.8 471L871.8 485M871.8 471L857.8 485M864.8 471L864.8 485" stroke="#800080" stroke-width="3.6" fill="none"/>
<path d="M889.2 516.4L903.2 530.4M903.2 516.4L889.2 530.4M896.2 516.4L896.2 530.4" stroke="#800080" stroke-width="3.6" fill="none"/>
<path d="M920.6 558.7L934.6 572.7M934.6 558.7L920.6 572.7M927.6 558.7L927.6 572.7" stroke="#800080" stroke-width="3.6" fill="none"/>
<path d="M983.4 630L997.4 644M997.4 630L983.4 644M990.4 630L990.4 644" stroke="#800080" stroke-width="3.6" fill="none"/>
<path d="M1046.2 692.5L1060.2 706.5M1060.2 692.5L1046.2 706.5M1053.2 692.5L1053.2 706.5" stroke="#800080" stroke-width="3.6" fill="none"/>
<path d="M1109 745.1L1123 759.1M1123 745.1L1109 759.1M1116 745.1L1116 759.1" stroke="#800080" stroke-width="3.6" fill="none"/>
<path d="M1171.8 790.5L1185.8 804.5M1185.8 790.5L1171.8 804.5M1178.8 790.5L1178.8 804.5" stroke="#800080" stroke-width="3.6" fill="none"/>
<path d="M1234.5 830.9L1248.5 844.9M1248.5 830.9L1234.5 844.9M1241.5 830.9L1241.5 844.9" stroke="#800080" stroke-width="3.6" fill="none"/>
<path d="M1297.3 868.6L1311.3 882.6M1311.3 868.6L1297.3 882.6M1304.3 868.6L1304.3 882.6" stroke="#800080" stroke-width="3.6" fill="none"/>
<path d="M1360.1 900.8L1374.1 914.8M1374.1 900.8L1360.1 914.8M1367.1 900.8L1367.1 914.8" stroke="#800080" stroke-width="3.6" fill="none"/>
<path d="M1422.9 929.1L1436.9 943.1M1436.9 929.1L1422.9 943.1M1429.9 929.1L1429.9 943.1" stroke="#800080" stroke-width="3.6" fill="none"/>
<path d="M1485.7 956.5L1499.7 970.5M1499.7 956.5L1485.7 970.5M1492.7 956.5L1492.7 970.5" stroke="#800080" stroke-width="3.6" fill="none"/>
<path d="M1548.5 979.5L1562.5 993.5M1562.5 979.5L1548.5 993.5M1555.5 979.5L1555.5 993.5" stroke="#800080" stroke-width="3.6" fill="none"/>
<ellipse cx="422.5" cy="716" rx="12" ry="33.5" fill="none" stroke="#000" stroke-width="5.5"/>
<text transform="translate(381,818) rotate(-90)" font-size="49">shifted</text>
<g>
<polyline points="966.5,304.4 972.1,279.7 981.2,257.7 989,266.8 998.2,251.2 1006,240.8 1013.2,204.8 1021.7,193.4 1031.1,181.6 1039.6,165.3 1048.1,148.3 1056,133.8 1061.8,107.1 1071.3,114.8 1079.5,86.2 1088,70.3 1095.5,30.3 1104,52.5 1111.8,83.6 1119,114 1127.1,118.7 1136,149.9 1143.5,165.5 1151.3,188.2 1160.1,205.7 1168,188.2 1176.1,229.9 1184.6,232.4 1193.1,239.5 1201.6,253 1208.4,253.2 1217.3,267.4 1226.1,286.9 1257.1,321.9 1289.7,360.2 1322.4,398.7 1355,402.9 1387.7,432.1 1421.6,444.8 1453,433.8 1485.6,444 1518.3,496.6 1552.9,501" fill="none" stroke="#000000" stroke-width="1.3" stroke-linejoin="round" stroke-linecap="round"/>
<polyline points="964.9,301.7 973,288.8 980.9,275.2 989.4,260.7 997.2,246 1005,229.9 1013.5,213.9 1021.4,196.5 1029.5,179.9 1038,163.3 1046.5,147.2 1054.3,132.3 1062.2,117.3 1070.7,103.1 1078.5,87 1086.3,68.6 1094.8,51.2 1103,64.1 1110.8,83.6 1119.3,104.4 1127.1,123.9 1135.6,142 1143.1,159 1151.6,174.5 1159.8,190.1 1168,203.9 1176.1,217.3 1183.9,230.4 1192.1,242.1 1200.6,252.4 1208.1,264.1 1216.9,274.5 1225.1,284.8 1256.8,319.5 1289.7,351.4 1323,377.2 1355,399.4 1387.7,418.8 1420.3,438.5 1453.3,453.7 1485.3,468.5 1518,481.7 1551.3,493.9" fill="none" stroke="#ff0000" stroke-width="1.3" stroke-linejoin="round" stroke-linecap="round"/>
<polyline points="966.5,304.4 974.7,291.5 982.5,277.9 991,263.4 998.8,248.6 1006.7,232.5 1015.1,216.6 1023,199.1 1031.1,182.6 1039.6,166 1048.1,149.9 1056,135 1063.8,120 1072.3,105.7 1080.1,89.6 1088,71.2 1096.4,53.8 1104.6,66.8 1112.4,86.2 1120.9,107.1 1128.8,126.5 1137.3,144.7 1144.8,161.6 1153.3,177.1 1161.4,192.7 1169.6,206.5 1177.7,219.9 1185.6,233 1193.7,244.8 1202.2,255 1209.7,266.8 1218.6,277.2 1226.7,287.5 1258.4,322.2 1291.4,354 1324.7,379.9 1356.7,402.1 1389.3,421.4 1422,441.1 1454.9,456.4 1486.9,471.1 1519.6,484.3 1552.9,496.6" fill="none" stroke="#0000ff" stroke-width="1.3" stroke-linejoin="round" stroke-linecap="round"/>
<circle cx="966.5" cy="304.4" r="2.5" fill="#000000"/>
<circle cx="972.1" cy="279.7" r="2.5" fill="#000000"/>
<circle cx="981.2" cy="257.7" r="2.5" fill="#000000"/>
<circle cx="989" cy="266.8" r="2.5" fill="#000000"/>
<circle cx="998.2" cy="251.2" r="2.5" fill="#000000"/>
<circle cx="1006" cy="240.8" r="2.5" fill="#000000"/>
<circle cx="1013.2" cy="204.8" r="2.5" fill="#000000"/>
<circle cx="1021.7" cy="193.4" r="2.5" fill="#000000"/>
<circle cx="1031.1" cy="181.6" r="2.5" fill="#000000"/>
<circle cx="1039.6" cy="165.3" r="2.5" fill="#000000"/>
<circle cx="1048.1" cy="148.3" r="2.5" fill="#000000"/>
<circle cx="1056" cy="133.8" r="2.5" fill="#000000"/>
<circle cx="1061.8" cy="107.1" r="2.5" fill="#000000"/>
<circle cx="1071.3" cy="114.8" r="2.5" fill="#000000"/>
<circle cx="1079.5" cy="86.2" r="2.5" fill="#000000"/>
<circle cx="1088" cy="70.3" r="2.5" fill="#000000"/>
<circle cx="1095.5" cy="30.3" r="2.5" fill="#000000"/>
<circle cx="1104" cy="52.5" r="2.5" fill="#000000"/>
<circle cx="1111.8" cy="83.6" r="2.5" fill="#000000"/>
<circle cx="1119" cy="114" r="2.5" fill="#000000"/>
<circle cx="1127.1" cy="118.7" r="2.5" fill="#000000"/>
<circle cx="1136" cy="149.9" r="2.5" fill="#000000"/>
<circle cx="1143.5" cy="165.5" r="2.5" fill="#000000"/>
<circle cx="1151.3" cy="188.2" r="2.5" fill="#000000"/>
<circle cx="1160.1" cy="205.7" r="2.5" fill="#000000"/>
<circle cx="1168" cy="188.2" r="2.5" fill="#000000"/>
<circle cx="1176.1" cy="229.9" r="2.5" fill="#000000"/>
<circle cx="1184.6" cy="232.4" r="2.5" fill="#000000"/>
<circle cx="1193.1" cy="239.5" r="2.5" fill="#000000"/>
<circle cx="1201.6" cy="253" r="2.5" fill="#000000"/>
<circle cx="1208.4" cy="253.2" r="2.5" fill="#000000"/>
<circle cx="1217.3" cy="267.4" r="2.5" fill="#000000"/>
<circle cx="1226.1" cy="286.9" r="2.5" fill="#000000"/>
<circle cx="1257.1" cy="321.9" r="2.5" fill="#000000"/>
<circle cx="1289.7" cy="360.2" r="2.5" fill="#000000"/>
<circle cx="1322.4" cy="398.7" r="2.5" fill="#000000"/>
<circle cx="1355" cy="402.9" r="2.5" fill="#000000"/>
<circle cx="1387.7" cy="432.1" r="2.5" fill="#000000"/>
<circle cx="1421.6" cy="444.8" r="2.5" fill="#000000"/>
<circle cx="1453" cy="433.8" r="2.5" fill="#000000"/>
<circle cx="1485.6" cy="444" r="2.5" fill="#000000"/>
<circle cx="1518.3" cy="496.6" r="2.5" fill="#000000"/>
<circle cx="1552.9" cy="501" r="2.5" fill="#000000"/>
<rect x="962.1" y="299" width="5.5" height="5.5" fill="#ff0000"/>
<rect x="970.3" y="286" width="5.5" height="5.5" fill="#ff0000"/>
<rect x="978.1" y="272.5" width="5.5" height="5.5" fill="#ff0000"/>
<rect x="986.6" y="258" width="5.5" height="5.5" fill="#ff0000"/>
<rect x="994.4" y="243.2" width="5.5" height="5.5" fill="#ff0000"/>
<rect x="1002.3" y="227.1" width="5.5" height="5.5" fill="#ff0000"/>
<rect x="1010.8" y="211.1" width="5.5" height="5.5" fill="#ff0000"/>
<rect x="1018.6" y="193.7" width="5.5" height="5.5" fill="#ff0000"/>
<rect x="1026.8" y="177.1" width="5.5" height="5.5" fill="#ff0000"/>
<rect x="1035.3" y="160.6" width="5.5" height="5.5" fill="#ff0000"/>
<rect x="1043.7" y="144.5" width="5.5" height="5.5" fill="#ff0000"/>
<rect x="1051.6" y="129.6" width="5.5" height="5.5" fill="#ff0000"/>
<rect x="1059.4" y="114.6" width="5.5" height="5.5" fill="#ff0000"/>
<rect x="1067.9" y="100.3" width="5.5" height="5.5" fill="#ff0000"/>
<rect x="1075.7" y="84.2" width="5.5" height="5.5" fill="#ff0000"/>
<rect x="1083.6" y="65.8" width="5.5" height="5.5" fill="#ff0000"/>
<rect x="1092.1" y="48.4" width="5.5" height="5.5" fill="#ff0000"/>
<rect x="1100.2" y="61.3" width="5.5" height="5.5" fill="#ff0000"/>
<rect x="1108.1" y="80.8" width="5.5" height="5.5" fill="#ff0000"/>
<rect x="1116.6" y="101.6" width="5.5" height="5.5" fill="#ff0000"/>
<rect x="1124.4" y="121.1" width="5.5" height="5.5" fill="#ff0000"/>
<rect x="1132.9" y="139.3" width="5.5" height="5.5" fill="#ff0000"/>
<rect x="1140.4" y="156.2" width="5.5" height="5.5" fill="#ff0000"/>
<rect x="1148.9" y="171.7" width="5.5" height="5.5" fill="#ff0000"/>
<rect x="1157" y="187.3" width="5.5" height="5.5" fill="#ff0000"/>
<rect x="1165.2" y="201.1" width="5.5" height="5.5" fill="#ff0000"/>
<rect x="1173.4" y="214.5" width="5.5" height="5.5" fill="#ff0000"/>
<rect x="1181.2" y="227.6" width="5.5" height="5.5" fill="#ff0000"/>
<rect x="1189.4" y="239.3" width="5.5" height="5.5" fill="#ff0000"/>
<rect x="1197.9" y="249.6" width="5.5" height="5.5" fill="#ff0000"/>
<rect x="1205.4" y="261.4" width="5.5" height="5.5" fill="#ff0000"/>
<rect x="1214.2" y="271.8" width="5.5" height="5.5" fill="#ff0000"/>
<rect x="1222.3" y="282.1" width="5.5" height="5.5" fill="#ff0000"/>
<rect x="1254" y="316.8" width="5.5" height="5.5" fill="#ff0000"/>
<rect x="1287" y="348.6" width="5.5" height="5.5" fill="#ff0000"/>
<rect x="1320.3" y="374.5" width="5.5" height="5.5" fill="#ff0000"/>
<rect x="1352.3" y="396.6" width="5.5" height="5.5" fill="#ff0000"/>
<rect x="1384.9" y="416" width="5.5" height="5.5" fill="#ff0000"/>
<rect x="1417.6" y="435.7" width="5.5" height="5.5" fill="#ff0000"/>
<rect x="1450.6" y="451" width="5.5" height="5.5" fill="#ff0000"/>
<rect x="1482.6" y="465.7" width="5.5" height="5.5" fill="#ff0000"/>
<rect x="1515.2" y="478.9" width="5.5" height="5.5" fill="#ff0000"/>
<rect x="1548.5" y="491.1" width="5.5" height="5.5" fill="#ff0000"/>
<polygon points="966.5,299.6 962.2,307.6 970.8,307.6" fill="#0000ff"/>
<polygon points="974.7,286.6 970.4,294.7 978.9,294.7" fill="#0000ff"/>
<polygon points="982.5,273.1 978.2,281.1 986.7,281.1" fill="#0000ff"/>
<polygon points="991,258.5 986.7,266.6 995.2,266.6" fill="#0000ff"/>
<polygon points="998.8,243.8 994.6,251.9 1003.1,251.9" fill="#0000ff"/>
<polygon points="1006.7,227.7 1002.4,235.8 1010.9,235.8" fill="#0000ff"/>
<polygon points="1015.1,211.7 1010.9,219.8 1019.4,219.8" fill="#0000ff"/>
<polygon points="1023,194.3 1018.7,202.4 1027.2,202.4" fill="#0000ff"/>
<polygon points="1031.1,177.7 1026.9,185.8 1035.4,185.8" fill="#0000ff"/>
<polygon points="1039.6,161.1 1035.4,169.2 1043.9,169.2" fill="#0000ff"/>
<polygon points="1048.1,145 1043.9,153.1 1052.4,153.1" fill="#0000ff"/>
<polygon points="1056,130.2 1051.7,138.2 1060.2,138.2" fill="#0000ff"/>
<polygon points="1063.8,115.2 1059.5,123.2 1068,123.2" fill="#0000ff"/>
<polygon points="1072.3,100.9 1068,109 1076.5,109" fill="#0000ff"/>
<polygon points="1080.1,84.8 1075.9,92.9 1084.4,92.9" fill="#0000ff"/>
<polygon points="1088,66.4 1083.7,74.5 1092.2,74.5" fill="#0000ff"/>
<polygon points="1096.4,49 1092.2,57 1100.7,57" fill="#0000ff"/>
<polygon points="1104.6,61.9 1100.4,70 1108.9,70" fill="#0000ff"/>
<polygon points="1112.4,81.4 1108.2,89.5 1116.7,89.5" fill="#0000ff"/>
<polygon points="1120.9,102.2 1116.7,110.3 1125.2,110.3" fill="#0000ff"/>
<polygon points="1128.8,121.7 1124.5,129.8 1133,129.8" fill="#0000ff"/>
<polygon points="1137.3,139.8 1133,147.9 1141.5,147.9" fill="#0000ff"/>
<polygon points="1144.8,156.8 1140.5,164.9 1149,164.9" fill="#0000ff"/>
<polygon points="1153.3,172.3 1149,180.3 1157.5,180.3" fill="#0000ff"/>
<polygon points="1161.4,187.9 1157.2,196 1165.7,196" fill="#0000ff"/>
<polygon points="1169.6,201.7 1165.3,209.7 1173.8,209.7" fill="#0000ff"/>
<polygon points="1177.7,215.1 1173.5,223.2 1182,223.2" fill="#0000ff"/>
<polygon points="1185.6,228.2 1181.3,236.2 1189.8,236.2" fill="#0000ff"/>
<polygon points="1193.7,239.9 1189.5,248 1198,248" fill="#0000ff"/>
<polygon points="1202.2,250.2 1198,258.3 1206.5,258.3" fill="#0000ff"/>
<polygon points="1209.7,261.9 1205.5,270 1214,270" fill="#0000ff"/>
<polygon points="1218.6,272.3 1214.3,280.4 1222.8,280.4" fill="#0000ff"/>
<polygon points="1226.7,282.6 1222.5,290.7 1231,290.7" fill="#0000ff"/>
<polygon points="1258.4,317.3 1254.1,325.4 1262.6,325.4" fill="#0000ff"/>
<polygon points="1291.4,349.2 1287.1,357.2 1295.6,357.2" fill="#0000ff"/>
<polygon points="1324.7,375.1 1320.4,383.1 1328.9,383.1" fill="#0000ff"/>
<polygon points="1356.7,397.2 1352.4,405.3 1360.9,405.3" fill="#0000ff"/>
<polygon points="1389.3,416.6 1385.1,424.6 1393.6,424.6" fill="#0000ff"/>
<polygon points="1422,436.3 1417.7,444.4 1426.2,444.4" fill="#0000ff"/>
<polygon points="1454.9,451.5 1450.7,459.6 1459.2,459.6" fill="#0000ff"/>
<polygon points="1486.9,466.3 1482.7,474.4 1491.2,474.4" fill="#0000ff"/>
<polygon points="1519.6,479.5 1515.3,487.6 1523.8,487.6" fill="#0000ff"/>
<polygon points="1552.9,491.7 1548.6,499.8 1557.1,499.8" fill="#0000ff"/>
</g>
<path d="M966.5 25.5V509.5H1551" fill="none" stroke="#000" stroke-width="1.6"/>
<path d="M958 509.5H966.5M958 449H966.5M958 388.5H966.5M958 328H966.5M958 267.5H966.5M958 207H966.5M958 146.5H966.5M958 86H966.5M966.5 509.5V519.5M999.1 509.5V517.5M1031.8 509.5V517.5M1064.5 509.5V517.5M1097.1 509.5V517.5M1129.8 509.5V519.5M1162.4 509.5V517.5M1195 509.5V517.5M1227.7 509.5V517.5M1260.3 509.5V517.5M1293 509.5V519.5M1325.7 509.5V517.5M1358.3 509.5V517.5M1391 509.5V517.5M1423.6 509.5V517.5M1456.2 509.5V519.5M1488.9 509.5V517.5M1521.5 509.5V517.5M1554.2 509.5V517.5" stroke="#000" stroke-width="1.6" fill="none"/>
<text x="946" y="518.5" font-size="26" text-anchor="end">0.03</text>
<text x="946" y="397.5" font-size="26" text-anchor="end">0.04</text>
<text x="946" y="276.5" font-size="26" text-anchor="end">0.05</text>
<text x="946" y="155.5" font-size="26" text-anchor="end">0.06</text>
<text x="966.5" y="558" font-size="26" text-anchor="middle">2</text>
<text x="1129.8" y="558" font-size="26" text-anchor="middle">7</text>
<text x="1293" y="558" font-size="26" text-anchor="middle">12</text>
<text x="1456.2" y="558" font-size="26" text-anchor="middle">17</text>
<path d="M1005 364.9H1033" stroke="#000000" stroke-width="1.4"/>
<circle cx="1019" cy="364.9" r="2.2" fill="#000000"/>
<text x="1038" y="373.4" font-size="26.5">0.05 Oe, 300 Hz</text>
<path d="M1005 413.1H1033" stroke="#ff0000" stroke-width="1.4"/>
<rect x="1016.5" y="410.6" width="5" height="5" fill="#ff0000"/>
<text x="1038" y="421.6" font-size="26.5">0.5 Oe, 300 Hz</text>
<path d="M1005 461.3H1033" stroke="#0000ff" stroke-width="1.4"/>
<polygon points="1019,456.5 1014.8,464.5 1023.2,464.5" fill="#0000ff"/>
<text x="1038" y="469.8" font-size="26.5">5 Oe, 300 Hz</text>
<rect x="300" y="22" width="1255.5" height="1055" fill="none" stroke="#000" stroke-width="4"/>
<path d="M284 1076H300M288 1049.6H300M288 1023.2H300M288 996.8H300M288 970.4H300M284 944H300M288 917.6H300M288 891.2H300M288 864.8H300M288 838.4H300M284 812H300M288 785.6H300M288 759.2H300M288 732.8H300M288 706.4H300M284 680H300M288 653.6H300M288 627.2H300M288 600.8H300M288 574.4H300M284 548H300M288 521.6H300M288 495.2H300M288 468.8H300M288 442.4H300M284 416H300M288 389.6H300M288 363.2H300M288 336.8H300M288 310.4H300M284 284H300M288 257.6H300M288 231.2H300M288 204.8H300M288 178.4H300M284 152H300M288 125.6H300M288 99.2H300M288 72.8H300M288 46.4H300M299.7 1077V1093M362.5 1077V1090M425.3 1077V1090M488.1 1077V1090M550.9 1077V1090M613.6 1077V1093M676.4 1077V1090M739.2 1077V1090M802 1077V1090M864.8 1077V1090M927.6 1077V1093M990.4 1077V1090M1053.2 1077V1090M1116 1077V1090M1178.8 1077V1090M1241.5 1077V1093M1304.3 1077V1090M1367.1 1077V1090M1429.9 1077V1090M1492.7 1077V1090M1555.5 1077V1093" stroke="#000" stroke-width="4" fill="none"/>
<text x="258" y="1092.5" font-size="49" text-anchor="end">0.025</text>
<text x="258" y="960.5" font-size="49" text-anchor="end">0.030</text>
<text x="258" y="828.5" font-size="49" text-anchor="end">0.035</text>
<text x="258" y="696.5" font-size="49" text-anchor="end">0.040</text>
<text x="258" y="564.5" font-size="49" text-anchor="end">0.045</text>
<text x="258" y="432.5" font-size="49" text-anchor="end">0.050</text>
<text x="258" y="300.5" font-size="49" text-anchor="end">0.055</text>
<text x="258" y="168.5" font-size="49" text-anchor="end">0.060</text>
<text x="299.7" y="1169" font-size="49" text-anchor="middle">0</text>
<text x="613.6" y="1169" font-size="49" text-anchor="middle">5</text>
<text x="927.6" y="1169" font-size="49" text-anchor="middle">10</text>
<text x="1241.5" y="1169" font-size="49" text-anchor="middle">15</text>
<text x="1555.5" y="1169" font-size="49" text-anchor="middle">20</text>
<text transform="translate(100,858.3) rotate(-90) scale(1.2,1)" font-size="60" font-style="italic">χ</text>
<text transform="translate(100,815) rotate(-90)" font-size="60">′</text>
<text transform="translate(100,787) rotate(-90)" font-size="58">(emu × mol<tspan dy="-23" font-size="39">−1</tspan><tspan dy="23"> × Oe</tspan><tspan dy="-23" font-size="39">−1</tspan><tspan dy="23">)</tspan></text>
<path d="M561 614H615.5" stroke="#000000" stroke-width="4.4"/>
<circle cx="586.5" cy="614" r="6" fill="#000000"/>
<text x="628" y="630.5" font-size="51">0.5 Hz</text>
<path d="M561 684.8H615.5" stroke="#ff0000" stroke-width="4.4"/>
<rect x="580.8" y="679" width="11.5" height="11.5" fill="#ff0000"/>
<text x="628" y="701.3" font-size="51">2 Hz</text>
<path d="M561 755.6H615.5" stroke="#0000ff" stroke-width="4.4"/>
<polygon points="586.5,747.9 579.8,760.7 593.2,760.7" fill="#0000ff"/>
<text x="628" y="772.1" font-size="51">7 Hz</text>
<path d="M561 826.4H615.5" stroke="#008000" stroke-width="4.4"/>
<polygon points="586.5,819.6 593.2,826.4 586.5,833.1 579.8,826.4" fill="#008000"/>
<text x="628" y="842.9" font-size="51">25 Hz</text>
<path d="M561 897.2H615.5" stroke="#800000" stroke-width="4.4"/>
<circle cx="586.5" cy="897.2" r="4" fill="#fff" stroke="#800000" stroke-width="4.1"/>
<text x="628" y="913.7" font-size="51">110 Hz</text>
<path d="M561 968H615.5" stroke="#800080" stroke-width="4.4"/>
<path d="M579.5 961L593.5 975M593.5 961L579.5 975M586.5 961L586.5 975" stroke="#800080" stroke-width="3.6" fill="none"/>
<text x="628" y="984.5" font-size="51">500 Hz</text>
<text x="848" y="979" font-size="58"><tspan font-style="italic">H</tspan><tspan font-size="39" dy="7">ac</tspan><tspan dy="-7"> = 5 Oe</tspan></text>
<text x="848" y="1047" font-size="58"><tspan font-style="italic">H</tspan><tspan font-size="39" dy="7">dc</tspan><tspan dy="-7"> = 0 Oe</tspan></text>
<text x="1410" y="1047" font-size="76">(a)</text>
<polyline points="420.6,1701.1 436.3,1674.6 452,1676.8 467.7,1629.3 483.4,1620.4 499.1,1612.7 514.8,1596.1 530.5,1575.1 546.2,1602.7 561.9,1625.9 577.6,1641.4 593.3,1674.6 609,1708.8 612.1,1725.4 615.3,1704.4 618.4,1701.1 621.6,1690 624.7,1712.1 627.8,1704.4 631,1649.2 634.1,1680.1 637.3,1618.2 640.4,1669 643.5,1585.1 646.7,1582.8 649.8,1503.3 653,1511 656.1,1538.7 659.2,1703.3 662.4,1839.2 665.5,1939.8 668.7,2066.8 671.8,2109.9 674.9,2117.7 678.1,2104.4 681.2,2117.7 684.4,2183.5 687.5,2141.5 690.6,2149.9 693.8,2163.3 696.9,2163 699.4,2207.2 701.9,2187.5 705.1,2152.7 708.9,2187.5 711.4,2151.2 714.5,2168.5 717.6,2163 721.4,2147.1 723.9,2187.5 727.7,2152.3 733.3,2192 766,2170.8 797.4,2144.9 828.8,2180.8 860.2,2182 891.6,2190.6 923,2198.7 985.8,2157.7 1048.6,2184.1 1111.4,2155.2 1174.2,2170 1237,2133.9 1299.8,2162 1362.6,2166.5 1425.4,2195.2 1488.2,2139.2 1551,2156" fill="none" stroke="#000000" stroke-width="4.3" stroke-linejoin="round" stroke-linecap="round"/>
<polyline points="420.6,1658 436.3,1632.6 452,1635.9 467.7,1623.7 483.4,1579.5 499.1,1595 514.8,1571.8 530.5,1582.8 546.2,1571.8 561.9,1554.1 577.6,1608.3 593.3,1611.6 609,1611.6 610.9,1637 614,1620.4 617.8,1612.7 620.9,1605 624.7,1591.7 629.1,1575.1 632.9,1558.5 637.3,1540.9 641.7,1523.2 645.4,1495.6 649.2,1477.9 653,1439.2 656.1,1417.1 657.4,1464.6 659.2,1590.6 663.6,1814.9 666.8,1932 669.9,2009.4 673.1,2035.9 674.3,2060.2 678.1,2080.1 684.4,2102.2 690.6,2107.7 696.9,2124.3 703.2,2129.8 709.5,2145.7 714.5,2101.5 722,2135.3 730.2,2150.7 766,2107.5 797.4,2121.9 828.8,2124 860.2,2121 891.6,2124.3 923,2131.4 985.8,2138.9 1048.6,2106.8 1111.4,2119.2 1174.2,2091.2 1237,2157.8 1299.8,2152.5 1362.6,2091.2 1425.4,2175.4 1488.2,2154.4 1551,2134.2" fill="none" stroke="#ff0000" stroke-width="4.3" stroke-linejoin="round" stroke-linecap="round"/>
<polyline points="420.6,1639.2 436.3,1673.5 452,1608.3 467.7,1603.8 483.4,1557.4 499.1,1575.1 514.8,1578.4 530.5,1564.1 546.2,1526.5 561.9,1575.1 577.6,1581.7 593.3,1526.5 609,1595 612.1,1616 615.3,1599.4 618.4,1582.8 621.6,1588.4 624.7,1566.3 627.8,1571.8 631,1549.7 634.1,1533.1 637.3,1505.5 640.4,1472.4 642.9,1421.5 644.8,1337.5 647.9,1339.8 651.1,1344.2 653.6,1346.4 655.5,1349.7 659.2,1356.3 661.1,1363 662.4,1406 664.9,1606.1 668.7,1772.9 673.7,1921 678.1,1991.7 680.6,2024.8 682.5,2027.1 686.2,2045.8 693.2,2085.6 703.2,2033.7 706.3,2069.1 709.5,2080.1 715.8,2136.7 718.3,2075.3 722,2113.2 728.3,2072.4 731.5,2135.3 734.6,2102.2 766,2082.3 797.4,2135.9 828.8,2094 860.2,2112.1 891.6,2095 923,2122.5 985.8,2104 1048.6,2132.9 1111.4,2139.2 1174.2,2055.8 1237,2122.6 1299.8,2159.5 1362.6,2142 1425.4,2142 1488.2,2115.7 1551,2114" fill="none" stroke="#0000ff" stroke-width="4.3" stroke-linejoin="round" stroke-linecap="round"/>
<polyline points="420.6,1712.1 436.3,1683.4 452,1671.2 467.7,1660.2 483.4,1648 499.1,1634.8 514.8,1629.3 530.5,1627 546.2,1622.6 561.9,1630.4 577.6,1633.7 593.3,1642.5 609,1656.9 612.1,1662.4 615.3,1658 618.4,1651.4 621.6,1644.7 624.7,1638.1 627.8,1631.5 631,1624.8 634.1,1612.7 637.3,1588.4 640.4,1566.3 643.5,1538.7 646.7,1505.5 649.8,1461.3 653,1423.7 655.5,1389.5 658.6,1379.5 661.1,1406 663.6,1483.4 665.5,1523.2 668.7,1686.7 671.8,1845.8 674.9,1975.1 678.1,2049.2 681.2,2101.5 685,2135.3 690,2160.8 695,2170.7 700.1,2177.9 706.3,2185.1 715.1,2194 725.2,2199 734.6,2195 766,2197.1 797.4,2192.6 828.8,2197.1 860.2,2190.6 891.6,2188.2 923,2188.2 985.8,2188.8 1048.6,2185.8 1111.4,2185.8 1174.2,2186.2 1237,2184.1 1299.8,2185.8 1362.6,2184.1 1425.4,2182.3 1488.2,2185.8 1551,2180.5" fill="none" stroke="#008000" stroke-width="4.3" stroke-linejoin="round" stroke-linecap="round"/>
<polyline points="420.6,1621.5 436.3,1602.7 452,1579.5 467.7,1568.5 483.4,1559.6 499.1,1556.3 514.8,1549.7 530.5,1539.8 546.2,1549.7 561.9,1555.2 577.6,1556.3 593.3,1569.6 609,1582.8 612.1,1575.1 615.3,1571.8 618.4,1565.2 621.6,1560.8 624.7,1554.1 627.8,1544.2 631,1534.2 634.1,1518.8 637.3,1505.5 640.4,1488.9 643.5,1472.4 646.7,1439.2 650.4,1372.9 654.2,1325.4 657.4,1306.6 661.1,1293.3 663.6,1335.3 666.8,1433.7 669.9,1587.3 672.4,1759.7 675.6,1905.5 678.7,1993.9 681.8,2060.2 685.6,2093 689.4,2120.7 691.9,2131.7 695,2140.8 698.2,2145.7 701.3,2156.8 706.3,2163 715.1,2163 728.3,2166.3 766,2167 797.4,2165.7 828.8,2166.3 860.2,2165.2 891.6,2165.2 923,2164.3 985.8,2164.6 1048.6,2166.5 1111.4,2167.2 1174.2,2164.7 1237,2164.7 1299.8,2170 1362.6,2164.7 1425.4,2171.8 1488.2,2164.7 1551,2162" fill="none" stroke="#800000" stroke-width="4.3" stroke-linejoin="round" stroke-linecap="round"/>
<polyline points="420.6,1542 436.3,1526.5 452,1509.9 467.7,1497.8 483.4,1481.2 499.1,1482.3 514.8,1472.4 530.5,1471.2 546.2,1472.4 561.9,1482.3 577.6,1493.3 593.3,1509.9 609,1518.8 612.1,1513.2 615.3,1513.2 618.4,1514.3 621.6,1513.2 624.7,1488.9 627.8,1506.6 631,1475.7 634.1,1479 637.3,1456.9 640.4,1446.9 643.5,1435.9 646.7,1398.3 649.8,1361.9 653,1335.3 656.1,1303.3 659.2,1260.2 662.4,1230.4 665.5,1211.6 668.7,1260.2 671.8,1348.6 674.9,1484.5 678.1,1653.6 681.2,1813.8 684.4,1926.5 687.5,2019.3 690.6,2071.3 693.8,2100 696.9,2130.9 700.1,2128.7 703.2,2167.4 706.3,2167.4 709.5,2164.6 712.6,2167.4 715.8,2169.4 718.9,2170.7 722,2169.6 725.2,2170.7 728.3,2168.5 731.5,2169.6 734.6,2169.6 766,2174.8 797.4,2172.4 828.8,2149.3 860.2,2152.3 891.6,2162.8 923,2149.3 985.8,2171.7 1048.6,2180.8 1111.4,2166.5 1174.2,2173.5 1237,2167.4 1299.8,2182.3 1362.6,2175.1 1425.4,2163 1488.2,2178.8 1551,2152.5" fill="none" stroke="#800080" stroke-width="4.3" stroke-linejoin="round" stroke-linecap="round"/>
<circle cx="420.6" cy="1701.1" r="6.5" fill="#000000"/>
<circle cx="436.3" cy="1674.6" r="6.5" fill="#000000"/>
<circle cx="452" cy="1676.8" r="6.5" fill="#000000"/>
<circle cx="467.7" cy="1629.3" r="6.5" fill="#000000"/>
<circle cx="483.4" cy="1620.4" r="6.5" fill="#000000"/>
<circle cx="499.1" cy="1612.7" r="6.5" fill="#000000"/>
<circle cx="514.8" cy="1596.1" r="6.5" fill="#000000"/>
<circle cx="530.5" cy="1575.1" r="6.5" fill="#000000"/>
<circle cx="546.2" cy="1602.7" r="6.5" fill="#000000"/>
<circle cx="561.9" cy="1625.9" r="6.5" fill="#000000"/>
<circle cx="577.6" cy="1641.4" r="6.5" fill="#000000"/>
<circle cx="593.3" cy="1674.6" r="6.5" fill="#000000"/>
<circle cx="609" cy="1708.8" r="6.5" fill="#000000"/>
<circle cx="612.1" cy="1725.4" r="6.5" fill="#000000"/>
<circle cx="615.3" cy="1704.4" r="6.5" fill="#000000"/>
<circle cx="618.4" cy="1701.1" r="6.5" fill="#000000"/>
<circle cx="621.6" cy="1690" r="6.5" fill="#000000"/>
<circle cx="624.7" cy="1712.1" r="6.5" fill="#000000"/>
<circle cx="627.8" cy="1704.4" r="6.5" fill="#000000"/>
<circle cx="631" cy="1649.2" r="6.5" fill="#000000"/>
<circle cx="634.1" cy="1680.1" r="6.5" fill="#000000"/>
<circle cx="637.3" cy="1618.2" r="6.5" fill="#000000"/>
<circle cx="640.4" cy="1669" r="6.5" fill="#000000"/>
<circle cx="643.5" cy="1585.1" r="6.5" fill="#000000"/>
<circle cx="646.7" cy="1582.8" r="6.5" fill="#000000"/>
<circle cx="649.8" cy="1503.3" r="6.5" fill="#000000"/>
<circle cx="653" cy="1511" r="6.5" fill="#000000"/>
<circle cx="656.1" cy="1538.7" r="6.5" fill="#000000"/>
<circle cx="659.2" cy="1703.3" r="6.5" fill="#000000"/>
<circle cx="662.4" cy="1839.2" r="6.5" fill="#000000"/>
<circle cx="665.5" cy="1939.8" r="6.5" fill="#000000"/>
<circle cx="668.7" cy="2066.8" r="6.5" fill="#000000"/>
<circle cx="671.8" cy="2109.9" r="6.5" fill="#000000"/>
<circle cx="674.9" cy="2117.7" r="6.5" fill="#000000"/>
<circle cx="678.1" cy="2104.4" r="6.5" fill="#000000"/>
<circle cx="681.2" cy="2117.7" r="6.5" fill="#000000"/>
<circle cx="684.4" cy="2183.5" r="6.5" fill="#000000"/>
<circle cx="687.5" cy="2141.5" r="6.5" fill="#000000"/>
<circle cx="690.6" cy="2149.9" r="6.5" fill="#000000"/>
<circle cx="693.8" cy="2163.3" r="6.5" fill="#000000"/>
<circle cx="696.9" cy="2163" r="6.5" fill="#000000"/>
<circle cx="699.4" cy="2207.2" r="6.5" fill="#000000"/>
<circle cx="701.9" cy="2187.5" r="6.5" fill="#000000"/>
<circle cx="705.1" cy="2152.7" r="6.5" fill="#000000"/>
<circle cx="708.9" cy="2187.5" r="6.5" fill="#000000"/>
<circle cx="711.4" cy="2151.2" r="6.5" fill="#000000"/>
<circle cx="714.5" cy="2168.5" r="6.5" fill="#000000"/>
<circle cx="717.6" cy="2163" r="6.5" fill="#000000"/>
<circle cx="721.4" cy="2147.1" r="6.5" fill="#000000"/>
<circle cx="723.9" cy="2187.5" r="6.5" fill="#000000"/>
<circle cx="727.7" cy="2152.3" r="6.5" fill="#000000"/>
<circle cx="733.3" cy="2192" r="6.5" fill="#000000"/>
<circle cx="766" cy="2170.8" r="6.5" fill="#000000"/>
<circle cx="797.4" cy="2144.9" r="6.5" fill="#000000"/>
<circle cx="828.8" cy="2180.8" r="6.5" fill="#000000"/>
<circle cx="860.2" cy="2182" r="6.5" fill="#000000"/>
<circle cx="891.6" cy="2190.6" r="6.5" fill="#000000"/>
<circle cx="923" cy="2198.7" r="6.5" fill="#000000"/>
<circle cx="985.8" cy="2157.7" r="6.5" fill="#000000"/>
<circle cx="1048.6" cy="2184.1" r="6.5" fill="#000000"/>
<circle cx="1111.4" cy="2155.2" r="6.5" fill="#000000"/>
<circle cx="1174.2" cy="2170" r="6.5" fill="#000000"/>
<circle cx="1237" cy="2133.9" r="6.5" fill="#000000"/>
<circle cx="1299.8" cy="2162" r="6.5" fill="#000000"/>
<circle cx="1362.6" cy="2166.5" r="6.5" fill="#000000"/>
<circle cx="1425.4" cy="2195.2" r="6.5" fill="#000000"/>
<circle cx="1488.2" cy="2139.2" r="6.5" fill="#000000"/>
<circle cx="1551" cy="2156" r="6.5" fill="#000000"/>
<rect x="414.4" y="1651.7" width="12.5" height="12.5" fill="#ff0000"/>
<rect x="430" y="1626.3" width="12.5" height="12.5" fill="#ff0000"/>
<rect x="445.8" y="1629.6" width="12.5" height="12.5" fill="#ff0000"/>
<rect x="461.4" y="1617.5" width="12.5" height="12.5" fill="#ff0000"/>
<rect x="477.1" y="1573.3" width="12.5" height="12.5" fill="#ff0000"/>
<rect x="492.9" y="1588.8" width="12.5" height="12.5" fill="#ff0000"/>
<rect x="508.5" y="1565.5" width="12.5" height="12.5" fill="#ff0000"/>
<rect x="524.2" y="1576.6" width="12.5" height="12.5" fill="#ff0000"/>
<rect x="540" y="1565.5" width="12.5" height="12.5" fill="#ff0000"/>
<rect x="555.6" y="1547.9" width="12.5" height="12.5" fill="#ff0000"/>
<rect x="571.3" y="1602" width="12.5" height="12.5" fill="#ff0000"/>
<rect x="587" y="1605.3" width="12.5" height="12.5" fill="#ff0000"/>
<rect x="602.8" y="1605.3" width="12.5" height="12.5" fill="#ff0000"/>
<rect x="604.6" y="1630.7" width="12.5" height="12.5" fill="#ff0000"/>
<rect x="607.8" y="1614.2" width="12.5" height="12.5" fill="#ff0000"/>
<rect x="611.5" y="1606.4" width="12.5" height="12.5" fill="#ff0000"/>
<rect x="614.7" y="1598.7" width="12.5" height="12.5" fill="#ff0000"/>
<rect x="618.5" y="1585.4" width="12.5" height="12.5" fill="#ff0000"/>
<rect x="622.8" y="1568.9" width="12.5" height="12.5" fill="#ff0000"/>
<rect x="626.6" y="1552.3" width="12.5" height="12.5" fill="#ff0000"/>
<rect x="631" y="1534.6" width="12.5" height="12.5" fill="#ff0000"/>
<rect x="635.4" y="1516.9" width="12.5" height="12.5" fill="#ff0000"/>
<rect x="639.2" y="1489.3" width="12.5" height="12.5" fill="#ff0000"/>
<rect x="642.9" y="1471.6" width="12.5" height="12.5" fill="#ff0000"/>
<rect x="646.7" y="1433" width="12.5" height="12.5" fill="#ff0000"/>
<rect x="649.8" y="1410.9" width="12.5" height="12.5" fill="#ff0000"/>
<rect x="651.1" y="1458.4" width="12.5" height="12.5" fill="#ff0000"/>
<rect x="653" y="1584.3" width="12.5" height="12.5" fill="#ff0000"/>
<rect x="657.4" y="1808.7" width="12.5" height="12.5" fill="#ff0000"/>
<rect x="660.5" y="1925.8" width="12.5" height="12.5" fill="#ff0000"/>
<rect x="663.7" y="2003.1" width="12.5" height="12.5" fill="#ff0000"/>
<rect x="666.8" y="2029.7" width="12.5" height="12.5" fill="#ff0000"/>
<rect x="668.1" y="2054" width="12.5" height="12.5" fill="#ff0000"/>
<rect x="671.8" y="2073.8" width="12.5" height="12.5" fill="#ff0000"/>
<rect x="678.1" y="2095.9" width="12.5" height="12.5" fill="#ff0000"/>
<rect x="684.4" y="2101.5" width="12.5" height="12.5" fill="#ff0000"/>
<rect x="690.7" y="2118.1" width="12.5" height="12.5" fill="#ff0000"/>
<rect x="697" y="2123.6" width="12.5" height="12.5" fill="#ff0000"/>
<rect x="703.2" y="2139.5" width="12.5" height="12.5" fill="#ff0000"/>
<rect x="708.3" y="2095.3" width="12.5" height="12.5" fill="#ff0000"/>
<rect x="715.8" y="2129.1" width="12.5" height="12.5" fill="#ff0000"/>
<rect x="724" y="2144.5" width="12.5" height="12.5" fill="#ff0000"/>
<rect x="759.8" y="2101.3" width="12.5" height="12.5" fill="#ff0000"/>
<rect x="791.1" y="2115.6" width="12.5" height="12.5" fill="#ff0000"/>
<rect x="822.5" y="2117.7" width="12.5" height="12.5" fill="#ff0000"/>
<rect x="853.9" y="2114.7" width="12.5" height="12.5" fill="#ff0000"/>
<rect x="885.4" y="2118.1" width="12.5" height="12.5" fill="#ff0000"/>
<rect x="916.8" y="2125.1" width="12.5" height="12.5" fill="#ff0000"/>
<rect x="979.5" y="2132.6" width="12.5" height="12.5" fill="#ff0000"/>
<rect x="1042.3" y="2100.6" width="12.5" height="12.5" fill="#ff0000"/>
<rect x="1105.2" y="2113" width="12.5" height="12.5" fill="#ff0000"/>
<rect x="1167.9" y="2084.9" width="12.5" height="12.5" fill="#ff0000"/>
<rect x="1230.8" y="2151.5" width="12.5" height="12.5" fill="#ff0000"/>
<rect x="1293.5" y="2146.2" width="12.5" height="12.5" fill="#ff0000"/>
<rect x="1356.3" y="2084.9" width="12.5" height="12.5" fill="#ff0000"/>
<rect x="1419.1" y="2169.1" width="12.5" height="12.5" fill="#ff0000"/>
<rect x="1482" y="2148.1" width="12.5" height="12.5" fill="#ff0000"/>
<rect x="1544.8" y="2128" width="12.5" height="12.5" fill="#ff0000"/>
<polygon points="420.6,1630.4 412.9,1645.1 428.4,1645.1" fill="#0000ff"/>
<polygon points="436.3,1664.6 428.5,1679.4 444,1679.4" fill="#0000ff"/>
<polygon points="452,1599.4 444.2,1614.2 459.8,1614.2" fill="#0000ff"/>
<polygon points="467.7,1595 459.9,1609.7 475.4,1609.7" fill="#0000ff"/>
<polygon points="483.4,1548.6 475.6,1563.3 491.1,1563.3" fill="#0000ff"/>
<polygon points="499.1,1566.3 491.4,1581 506.9,1581" fill="#0000ff"/>
<polygon points="514.8,1569.6 507,1584.3 522.5,1584.3" fill="#0000ff"/>
<polygon points="530.5,1555.2 522.8,1570 538.2,1570" fill="#0000ff"/>
<polygon points="546.2,1517.7 538.5,1532.4 554,1532.4" fill="#0000ff"/>
<polygon points="561.9,1566.3 554.1,1581 569.6,1581" fill="#0000ff"/>
<polygon points="577.6,1572.9 569.8,1587.6 585.3,1587.6" fill="#0000ff"/>
<polygon points="593.3,1517.7 585.5,1532.4 601,1532.4" fill="#0000ff"/>
<polygon points="609,1586.2 601.2,1600.9 616.8,1600.9" fill="#0000ff"/>
<polygon points="612.1,1607.2 604.4,1621.9 619.9,1621.9" fill="#0000ff"/>
<polygon points="615.3,1590.6 607.5,1605.3 623,1605.3" fill="#0000ff"/>
<polygon points="618.4,1574 610.7,1588.7 626.2,1588.7" fill="#0000ff"/>
<polygon points="621.6,1579.5 613.8,1594.3 629.3,1594.3" fill="#0000ff"/>
<polygon points="624.7,1557.4 617,1572.2 632.5,1572.2" fill="#0000ff"/>
<polygon points="627.8,1563 620.1,1577.7 635.6,1577.7" fill="#0000ff"/>
<polygon points="631,1540.9 623.2,1555.6 638.7,1555.6" fill="#0000ff"/>
<polygon points="634.1,1524.3 626.4,1539 641.9,1539" fill="#0000ff"/>
<polygon points="637.3,1496.7 629.5,1511.4 645,1511.4" fill="#0000ff"/>
<polygon points="640.4,1463.5 632.6,1478.2 648.1,1478.2" fill="#0000ff"/>
<polygon points="642.9,1412.7 635.2,1427.4 650.7,1427.4" fill="#0000ff"/>
<polygon points="644.8,1328.7 637,1343.4 652.5,1343.4" fill="#0000ff"/>
<polygon points="647.9,1330.9 640.2,1345.6 655.7,1345.6" fill="#0000ff"/>
<polygon points="651.1,1335.3 643.3,1350.1 658.8,1350.1" fill="#0000ff"/>
<polygon points="653.6,1337.5 645.8,1352.3 661.3,1352.3" fill="#0000ff"/>
<polygon points="655.5,1340.9 647.7,1355.6 663.2,1355.6" fill="#0000ff"/>
<polygon points="659.2,1347.5 651.5,1362.2 667,1362.2" fill="#0000ff"/>
<polygon points="661.1,1354.1 653.4,1368.8 668.9,1368.8" fill="#0000ff"/>
<polygon points="662.4,1397.2 654.6,1411.9 670.1,1411.9" fill="#0000ff"/>
<polygon points="664.9,1597.2 657.1,1611.9 672.6,1611.9" fill="#0000ff"/>
<polygon points="668.7,1764.1 660.9,1778.8 676.4,1778.8" fill="#0000ff"/>
<polygon points="673.7,1912.1 665.9,1926.9 681.4,1926.9" fill="#0000ff"/>
<polygon points="678.1,1982.9 670.3,1997.6 685.8,1997.6" fill="#0000ff"/>
<polygon points="680.6,2016 672.8,2030.7 688.3,2030.7" fill="#0000ff"/>
<polygon points="682.5,2018.2 674.7,2033 690.2,2033" fill="#0000ff"/>
<polygon points="686.2,2037 678.5,2051.7 694,2051.7" fill="#0000ff"/>
<polygon points="693.2,2076.8 685.4,2091.5 700.9,2091.5" fill="#0000ff"/>
<polygon points="703.2,2024.9 695.5,2039.6 711,2039.6" fill="#0000ff"/>
<polygon points="706.3,2060.2 698.6,2074.9 714.1,2074.9" fill="#0000ff"/>
<polygon points="709.5,2071.3 701.7,2086 717.2,2086" fill="#0000ff"/>
<polygon points="715.8,2127.8 708,2142.6 723.5,2142.6" fill="#0000ff"/>
<polygon points="718.3,2066.5 710.5,2081.2 726,2081.2" fill="#0000ff"/>
<polygon points="722,2104.4 714.3,2119.1 729.8,2119.1" fill="#0000ff"/>
<polygon points="728.3,2063.5 720.6,2078.3 736.1,2078.3" fill="#0000ff"/>
<polygon points="731.5,2126.5 723.7,2141.2 739.2,2141.2" fill="#0000ff"/>
<polygon points="734.6,2093.4 726.8,2108.1 742.3,2108.1" fill="#0000ff"/>
<polygon points="766,2073.5 758.2,2088.2 773.8,2088.2" fill="#0000ff"/>
<polygon points="797.4,2127.1 789.6,2141.8 805.1,2141.8" fill="#0000ff"/>
<polygon points="828.8,2085.2 821,2099.9 836.5,2099.9" fill="#0000ff"/>
<polygon points="860.2,2103.3 852.4,2118 867.9,2118" fill="#0000ff"/>
<polygon points="891.6,2086.2 883.9,2100.9 899.4,2100.9" fill="#0000ff"/>
<polygon points="923,2113.7 915.2,2128.4 930.8,2128.4" fill="#0000ff"/>
<polygon points="985.8,2095.1 978,2109.9 993.5,2109.9" fill="#0000ff"/>
<polygon points="1048.6,2124.1 1040.8,2138.8 1056.3,2138.8" fill="#0000ff"/>
<polygon points="1111.4,2130.4 1103.7,2145.1 1119.2,2145.1" fill="#0000ff"/>
<polygon points="1174.2,2047 1166.4,2061.7 1181.9,2061.7" fill="#0000ff"/>
<polygon points="1237,2113.8 1229.2,2128.5 1244.8,2128.5" fill="#0000ff"/>
<polygon points="1299.8,2150.7 1292,2165.4 1307.5,2165.4" fill="#0000ff"/>
<polygon points="1362.6,2133.1 1354.8,2147.9 1370.3,2147.9" fill="#0000ff"/>
<polygon points="1425.4,2133.1 1417.6,2147.9 1433.1,2147.9" fill="#0000ff"/>
<polygon points="1488.2,2106.8 1480.5,2121.6 1496,2121.6" fill="#0000ff"/>
<polygon points="1551,2105.2 1543.2,2119.9 1558.8,2119.9" fill="#0000ff"/>
<polygon points="420.6,1704.4 428.4,1712.1 420.6,1719.9 412.9,1712.1" fill="#008000"/>
<polygon points="436.3,1675.7 444,1683.4 436.3,1691.2 428.5,1683.4" fill="#008000"/>
<polygon points="452,1663.5 459.8,1671.2 452,1679 444.2,1671.2" fill="#008000"/>
<polygon points="467.7,1652.5 475.4,1660.2 467.7,1668 459.9,1660.2" fill="#008000"/>
<polygon points="483.4,1640.3 491.1,1648 483.4,1655.8 475.6,1648" fill="#008000"/>
<polygon points="499.1,1627 506.9,1634.8 499.1,1642.5 491.4,1634.8" fill="#008000"/>
<polygon points="514.8,1621.5 522.5,1629.3 514.8,1637 507,1629.3" fill="#008000"/>
<polygon points="530.5,1619.3 538.2,1627 530.5,1634.8 522.8,1627" fill="#008000"/>
<polygon points="546.2,1614.9 554,1622.6 546.2,1630.4 538.5,1622.6" fill="#008000"/>
<polygon points="561.9,1622.6 569.6,1630.4 561.9,1638.1 554.1,1630.4" fill="#008000"/>
<polygon points="577.6,1625.9 585.3,1633.7 577.6,1641.4 569.8,1633.7" fill="#008000"/>
<polygon points="593.3,1634.8 601,1642.5 593.3,1650.3 585.5,1642.5" fill="#008000"/>
<polygon points="609,1649.1 616.8,1656.9 609,1664.6 601.2,1656.9" fill="#008000"/>
<polygon points="612.1,1654.7 619.9,1662.4 612.1,1670.2 604.4,1662.4" fill="#008000"/>
<polygon points="615.3,1650.2 623,1658 615.3,1665.7 607.5,1658" fill="#008000"/>
<polygon points="618.4,1643.6 626.2,1651.4 618.4,1659.1 610.7,1651.4" fill="#008000"/>
<polygon points="621.6,1637 629.3,1644.7 621.6,1652.5 613.8,1644.7" fill="#008000"/>
<polygon points="624.7,1630.4 632.5,1638.1 624.7,1645.9 617,1638.1" fill="#008000"/>
<polygon points="627.8,1623.7 635.6,1631.5 627.8,1639.2 620.1,1631.5" fill="#008000"/>
<polygon points="631,1617.1 638.7,1624.8 631,1632.6 623.2,1624.8" fill="#008000"/>
<polygon points="634.1,1604.9 641.9,1612.7 634.1,1620.4 626.4,1612.7" fill="#008000"/>
<polygon points="637.3,1580.6 645,1588.4 637.3,1596.1 629.5,1588.4" fill="#008000"/>
<polygon points="640.4,1558.5 648.1,1566.3 640.4,1574 632.6,1566.3" fill="#008000"/>
<polygon points="643.5,1530.9 651.3,1538.7 643.5,1546.4 635.8,1538.7" fill="#008000"/>
<polygon points="646.7,1497.8 654.4,1505.5 646.7,1513.2 638.9,1505.5" fill="#008000"/>
<polygon points="649.8,1453.5 657.6,1461.3 649.8,1469 642.1,1461.3" fill="#008000"/>
<polygon points="653,1416 660.7,1423.7 653,1431.5 645.2,1423.7" fill="#008000"/>
<polygon points="655.5,1381.7 663.2,1389.5 655.5,1397.2 647.7,1389.5" fill="#008000"/>
<polygon points="658.6,1371.8 666.4,1379.5 658.6,1387.3 650.9,1379.5" fill="#008000"/>
<polygon points="661.1,1398.3 668.9,1406 661.1,1413.8 653.4,1406" fill="#008000"/>
<polygon points="663.6,1475.7 671.4,1483.4 663.6,1491.2 655.9,1483.4" fill="#008000"/>
<polygon points="665.5,1515.4 673.3,1523.2 665.5,1530.9 657.8,1523.2" fill="#008000"/>
<polygon points="668.7,1679 676.4,1686.7 668.7,1694.5 660.9,1686.7" fill="#008000"/>
<polygon points="671.8,1838.1 679.5,1845.8 671.8,1853.6 664,1845.8" fill="#008000"/>
<polygon points="674.9,1967.4 682.7,1975.1 674.9,1982.9 667.2,1975.1" fill="#008000"/>
<polygon points="678.1,2041.4 685.8,2049.2 678.1,2056.9 670.3,2049.2" fill="#008000"/>
<polygon points="681.2,2093.8 689,2101.5 681.2,2109.3 673.5,2101.5" fill="#008000"/>
<polygon points="685,2127.6 692.7,2135.3 685,2143.1 677.2,2135.3" fill="#008000"/>
<polygon points="690,2153 697.8,2160.8 690,2168.5 682.3,2160.8" fill="#008000"/>
<polygon points="695,2163 702.8,2170.7 695,2178.5 687.3,2170.7" fill="#008000"/>
<polygon points="700.1,2170.1 707.8,2177.9 700.1,2185.6 692.3,2177.9" fill="#008000"/>
<polygon points="706.3,2177.3 714.1,2185.1 706.3,2192.8 698.6,2185.1" fill="#008000"/>
<polygon points="715.1,2186.3 722.9,2194 715.1,2201.8 707.4,2194" fill="#008000"/>
<polygon points="725.2,2191.2 732.9,2199 725.2,2206.7 717.4,2199" fill="#008000"/>
<polygon points="734.6,2187.3 742.3,2195 734.6,2202.8 726.8,2195" fill="#008000"/>
<polygon points="766,2189.4 773.8,2197.1 766,2204.9 758.2,2197.1" fill="#008000"/>
<polygon points="797.4,2184.8 805.1,2192.6 797.4,2200.3 789.6,2192.6" fill="#008000"/>
<polygon points="828.8,2189.4 836.5,2197.1 828.8,2204.9 821,2197.1" fill="#008000"/>
<polygon points="860.2,2182.8 867.9,2190.6 860.2,2198.3 852.4,2190.6" fill="#008000"/>
<polygon points="891.6,2180.4 899.4,2188.2 891.6,2195.9 883.9,2188.2" fill="#008000"/>
<polygon points="923,2180.4 930.8,2188.2 923,2195.9 915.2,2188.2" fill="#008000"/>
<polygon points="985.8,2181.1 993.5,2188.8 985.8,2196.6 978,2188.8" fill="#008000"/>
<polygon points="1048.6,2178.1 1056.3,2185.8 1048.6,2193.6 1040.8,2185.8" fill="#008000"/>
<polygon points="1111.4,2178.1 1119.2,2185.8 1111.4,2193.6 1103.7,2185.8" fill="#008000"/>
<polygon points="1174.2,2178.4 1181.9,2186.2 1174.2,2193.9 1166.4,2186.2" fill="#008000"/>
<polygon points="1237,2176.3 1244.8,2184.1 1237,2191.8 1229.2,2184.1" fill="#008000"/>
<polygon points="1299.8,2178.1 1307.5,2185.8 1299.8,2193.6 1292,2185.8" fill="#008000"/>
<polygon points="1362.6,2176.3 1370.3,2184.1 1362.6,2191.8 1354.8,2184.1" fill="#008000"/>
<polygon points="1425.4,2174.6 1433.1,2182.3 1425.4,2190.1 1417.6,2182.3" fill="#008000"/>
<polygon points="1488.2,2178.1 1496,2185.8 1488.2,2193.6 1480.5,2185.8" fill="#008000"/>
<polygon points="1551,2172.8 1558.8,2180.5 1551,2188.3 1543.2,2180.5" fill="#008000"/>
<circle cx="420.6" cy="1621.5" r="4.1" fill="#fff" stroke="#800000" stroke-width="4.2"/>
<circle cx="436.3" cy="1602.7" r="4.1" fill="#fff" stroke="#800000" stroke-width="4.2"/>
<circle cx="452" cy="1579.5" r="4.1" fill="#fff" stroke="#800000" stroke-width="4.2"/>
<circle cx="467.7" cy="1568.5" r="4.1" fill="#fff" stroke="#800000" stroke-width="4.2"/>
<circle cx="483.4" cy="1559.6" r="4.1" fill="#fff" stroke="#800000" stroke-width="4.2"/>
<circle cx="499.1" cy="1556.3" r="4.1" fill="#fff" stroke="#800000" stroke-width="4.2"/>
<circle cx="514.8" cy="1549.7" r="4.1" fill="#fff" stroke="#800000" stroke-width="4.2"/>
<circle cx="530.5" cy="1539.8" r="4.1" fill="#fff" stroke="#800000" stroke-width="4.2"/>
<circle cx="546.2" cy="1549.7" r="4.1" fill="#fff" stroke="#800000" stroke-width="4.2"/>
<circle cx="561.9" cy="1555.2" r="4.1" fill="#fff" stroke="#800000" stroke-width="4.2"/>
<circle cx="577.6" cy="1556.3" r="4.1" fill="#fff" stroke="#800000" stroke-width="4.2"/>
<circle cx="593.3" cy="1569.6" r="4.1" fill="#fff" stroke="#800000" stroke-width="4.2"/>
<circle cx="609" cy="1582.8" r="4.1" fill="#fff" stroke="#800000" stroke-width="4.2"/>
<circle cx="612.1" cy="1575.1" r="4.1" fill="#fff" stroke="#800000" stroke-width="4.2"/>
<circle cx="615.3" cy="1571.8" r="4.1" fill="#fff" stroke="#800000" stroke-width="4.2"/>
<circle cx="618.4" cy="1565.2" r="4.1" fill="#fff" stroke="#800000" stroke-width="4.2"/>
<circle cx="621.6" cy="1560.8" r="4.1" fill="#fff" stroke="#800000" stroke-width="4.2"/>
<circle cx="624.7" cy="1554.1" r="4.1" fill="#fff" stroke="#800000" stroke-width="4.2"/>
<circle cx="627.8" cy="1544.2" r="4.1" fill="#fff" stroke="#800000" stroke-width="4.2"/>
<circle cx="631" cy="1534.2" r="4.1" fill="#fff" stroke="#800000" stroke-width="4.2"/>
<circle cx="634.1" cy="1518.8" r="4.1" fill="#fff" stroke="#800000" stroke-width="4.2"/>
<circle cx="637.3" cy="1505.5" r="4.1" fill="#fff" stroke="#800000" stroke-width="4.2"/>
<circle cx="640.4" cy="1488.9" r="4.1" fill="#fff" stroke="#800000" stroke-width="4.2"/>
<circle cx="643.5" cy="1472.4" r="4.1" fill="#fff" stroke="#800000" stroke-width="4.2"/>
<circle cx="646.7" cy="1439.2" r="4.1" fill="#fff" stroke="#800000" stroke-width="4.2"/>
<circle cx="650.4" cy="1372.9" r="4.1" fill="#fff" stroke="#800000" stroke-width="4.2"/>
<circle cx="654.2" cy="1325.4" r="4.1" fill="#fff" stroke="#800000" stroke-width="4.2"/>
<circle cx="657.4" cy="1306.6" r="4.1" fill="#fff" stroke="#800000" stroke-width="4.2"/>
<circle cx="661.1" cy="1293.3" r="4.1" fill="#fff" stroke="#800000" stroke-width="4.2"/>
<circle cx="663.6" cy="1335.3" r="4.1" fill="#fff" stroke="#800000" stroke-width="4.2"/>
<circle cx="666.8" cy="1433.7" r="4.1" fill="#fff" stroke="#800000" stroke-width="4.2"/>
<circle cx="669.9" cy="1587.3" r="4.1" fill="#fff" stroke="#800000" stroke-width="4.2"/>
<circle cx="672.4" cy="1759.7" r="4.1" fill="#fff" stroke="#800000" stroke-width="4.2"/>
<circle cx="675.6" cy="1905.5" r="4.1" fill="#fff" stroke="#800000" stroke-width="4.2"/>
<circle cx="678.7" cy="1993.9" r="4.1" fill="#fff" stroke="#800000" stroke-width="4.2"/>
<circle cx="681.8" cy="2060.2" r="4.1" fill="#fff" stroke="#800000" stroke-width="4.2"/>
<circle cx="685.6" cy="2093" r="4.1" fill="#fff" stroke="#800000" stroke-width="4.2"/>
<circle cx="689.4" cy="2120.7" r="4.1" fill="#fff" stroke="#800000" stroke-width="4.2"/>
<circle cx="691.9" cy="2131.7" r="4.1" fill="#fff" stroke="#800000" stroke-width="4.2"/>
<circle cx="695" cy="2140.8" r="4.1" fill="#fff" stroke="#800000" stroke-width="4.2"/>
<circle cx="698.2" cy="2145.7" r="4.1" fill="#fff" stroke="#800000" stroke-width="4.2"/>
<circle cx="701.3" cy="2156.8" r="4.1" fill="#fff" stroke="#800000" stroke-width="4.2"/>
<circle cx="706.3" cy="2163" r="4.1" fill="#fff" stroke="#800000" stroke-width="4.2"/>
<circle cx="715.1" cy="2163" r="4.1" fill="#fff" stroke="#800000" stroke-width="4.2"/>
<circle cx="728.3" cy="2166.3" r="4.1" fill="#fff" stroke="#800000" stroke-width="4.2"/>
<circle cx="766" cy="2167" r="4.1" fill="#fff" stroke="#800000" stroke-width="4.2"/>
<circle cx="797.4" cy="2165.7" r="4.1" fill="#fff" stroke="#800000" stroke-width="4.2"/>
<circle cx="828.8" cy="2166.3" r="4.1" fill="#fff" stroke="#800000" stroke-width="4.2"/>
<circle cx="860.2" cy="2165.2" r="4.1" fill="#fff" stroke="#800000" stroke-width="4.2"/>
<circle cx="891.6" cy="2165.2" r="4.1" fill="#fff" stroke="#800000" stroke-width="4.2"/>
<circle cx="923" cy="2164.3" r="4.1" fill="#fff" stroke="#800000" stroke-width="4.2"/>
<circle cx="985.8" cy="2164.6" r="4.1" fill="#fff" stroke="#800000" stroke-width="4.2"/>
<circle cx="1048.6" cy="2166.5" r="4.1" fill="#fff" stroke="#800000" stroke-width="4.2"/>
<circle cx="1111.4" cy="2167.2" r="4.1" fill="#fff" stroke="#800000" stroke-width="4.2"/>
<circle cx="1174.2" cy="2164.7" r="4.1" fill="#fff" stroke="#800000" stroke-width="4.2"/>
<circle cx="1237" cy="2164.7" r="4.1" fill="#fff" stroke="#800000" stroke-width="4.2"/>
<circle cx="1299.8" cy="2170" r="4.1" fill="#fff" stroke="#800000" stroke-width="4.2"/>
<circle cx="1362.6" cy="2164.7" r="4.1" fill="#fff" stroke="#800000" stroke-width="4.2"/>
<circle cx="1425.4" cy="2171.8" r="4.1" fill="#fff" stroke="#800000" stroke-width="4.2"/>
<circle cx="1488.2" cy="2164.7" r="4.1" fill="#fff" stroke="#800000" stroke-width="4.2"/>
<circle cx="1551" cy="2162" r="4.1" fill="#fff" stroke="#800000" stroke-width="4.2"/>
<path d="M412.9 1534.2L428.4 1549.7M428.4 1534.2L412.9 1549.7M420.6 1534.2L420.6 1549.7" stroke="#800080" stroke-width="4" fill="none"/>
<path d="M428.5 1518.7L444 1534.2M444 1518.7L428.5 1534.2M436.3 1518.7L436.3 1534.2" stroke="#800080" stroke-width="4" fill="none"/>
<path d="M444.2 1502.2L459.8 1517.7M459.8 1502.2L444.2 1517.7M452 1502.2L452 1517.7" stroke="#800080" stroke-width="4" fill="none"/>
<path d="M459.9 1490L475.4 1505.5M475.4 1490L459.9 1505.5M467.7 1490L467.7 1505.5" stroke="#800080" stroke-width="4" fill="none"/>
<path d="M475.6 1473.4L491.1 1488.9M491.1 1473.4L475.6 1488.9M483.4 1473.4L483.4 1488.9" stroke="#800080" stroke-width="4" fill="none"/>
<path d="M491.4 1474.5L506.9 1490M506.9 1474.5L491.4 1490M499.1 1474.5L499.1 1490" stroke="#800080" stroke-width="4" fill="none"/>
<path d="M507 1464.6L522.5 1480.1M522.5 1464.6L507 1480.1M514.8 1464.6L514.8 1480.1" stroke="#800080" stroke-width="4" fill="none"/>
<path d="M522.8 1463.5L538.2 1479M538.2 1463.5L522.8 1479M530.5 1463.5L530.5 1479" stroke="#800080" stroke-width="4" fill="none"/>
<path d="M538.5 1464.6L554 1480.1M554 1464.6L538.5 1480.1M546.2 1464.6L546.2 1480.1" stroke="#800080" stroke-width="4" fill="none"/>
<path d="M554.1 1474.5L569.6 1490M569.6 1474.5L554.1 1490M561.9 1474.5L561.9 1490" stroke="#800080" stroke-width="4" fill="none"/>
<path d="M569.8 1485.6L585.3 1501.1M585.3 1485.6L569.8 1501.1M577.6 1485.6L577.6 1501.1" stroke="#800080" stroke-width="4" fill="none"/>
<path d="M585.5 1502.2L601 1517.7M601 1502.2L585.5 1517.7M593.3 1502.2L593.3 1517.7" stroke="#800080" stroke-width="4" fill="none"/>
<path d="M601.2 1511L616.8 1526.5M616.8 1511L601.2 1526.5M609 1511L609 1526.5" stroke="#800080" stroke-width="4" fill="none"/>
<path d="M604.4 1505.5L619.9 1521M619.9 1505.5L604.4 1521M612.1 1505.5L612.1 1521" stroke="#800080" stroke-width="4" fill="none"/>
<path d="M607.5 1505.5L623 1521M623 1505.5L607.5 1521M615.3 1505.5L615.3 1521" stroke="#800080" stroke-width="4" fill="none"/>
<path d="M610.7 1506.6L626.2 1522.1M626.2 1506.6L610.7 1522.1M618.4 1506.6L618.4 1522.1" stroke="#800080" stroke-width="4" fill="none"/>
<path d="M613.8 1505.5L629.3 1521M629.3 1505.5L613.8 1521M621.6 1505.5L621.6 1521" stroke="#800080" stroke-width="4" fill="none"/>
<path d="M617 1481.2L632.5 1496.7M632.5 1481.2L617 1496.7M624.7 1481.2L624.7 1496.7" stroke="#800080" stroke-width="4" fill="none"/>
<path d="M620.1 1498.9L635.6 1514.4M635.6 1498.9L620.1 1514.4M627.8 1498.9L627.8 1514.4" stroke="#800080" stroke-width="4" fill="none"/>
<path d="M623.2 1467.9L638.7 1483.4M638.7 1467.9L623.2 1483.4M631 1467.9L631 1483.4" stroke="#800080" stroke-width="4" fill="none"/>
<path d="M626.4 1471.2L641.9 1486.7M641.9 1471.2L626.4 1486.7M634.1 1471.2L634.1 1486.7" stroke="#800080" stroke-width="4" fill="none"/>
<path d="M629.5 1449.1L645 1464.6M645 1449.1L629.5 1464.6M637.3 1449.1L637.3 1464.6" stroke="#800080" stroke-width="4" fill="none"/>
<path d="M632.6 1439.2L648.1 1454.7M648.1 1439.2L632.6 1454.7M640.4 1439.2L640.4 1454.7" stroke="#800080" stroke-width="4" fill="none"/>
<path d="M635.8 1428.1L651.3 1443.6M651.3 1428.1L635.8 1443.6M643.5 1428.1L643.5 1443.6" stroke="#800080" stroke-width="4" fill="none"/>
<path d="M638.9 1390.6L654.4 1406.1M654.4 1390.6L638.9 1406.1M646.7 1390.6L646.7 1406.1" stroke="#800080" stroke-width="4" fill="none"/>
<path d="M642.1 1354.1L657.6 1369.6M657.6 1354.1L642.1 1369.6M649.8 1354.1L649.8 1369.6" stroke="#800080" stroke-width="4" fill="none"/>
<path d="M645.2 1327.6L660.7 1343.1M660.7 1327.6L645.2 1343.1M653 1327.6L653 1343.1" stroke="#800080" stroke-width="4" fill="none"/>
<path d="M648.3 1295.5L663.8 1311M663.8 1295.5L648.3 1311M656.1 1295.5L656.1 1311" stroke="#800080" stroke-width="4" fill="none"/>
<path d="M651.5 1252.4L667 1267.9M667 1252.4L651.5 1267.9M659.2 1252.4L659.2 1267.9" stroke="#800080" stroke-width="4" fill="none"/>
<path d="M654.6 1222.6L670.1 1238.1M670.1 1222.6L654.6 1238.1M662.4 1222.6L662.4 1238.1" stroke="#800080" stroke-width="4" fill="none"/>
<path d="M657.8 1203.8L673.3 1219.3M673.3 1203.8L657.8 1219.3M665.5 1203.8L665.5 1219.3" stroke="#800080" stroke-width="4" fill="none"/>
<path d="M660.9 1252.4L676.4 1267.9M676.4 1252.4L660.9 1267.9M668.7 1252.4L668.7 1267.9" stroke="#800080" stroke-width="4" fill="none"/>
<path d="M664 1340.8L679.5 1356.3M679.5 1340.8L664 1356.3M671.8 1340.8L671.8 1356.3" stroke="#800080" stroke-width="4" fill="none"/>
<path d="M667.2 1476.8L682.7 1492.3M682.7 1476.8L667.2 1492.3M674.9 1476.8L674.9 1492.3" stroke="#800080" stroke-width="4" fill="none"/>
<path d="M670.3 1645.8L685.8 1661.3M685.8 1645.8L670.3 1661.3M678.1 1645.8L678.1 1661.3" stroke="#800080" stroke-width="4" fill="none"/>
<path d="M673.5 1806L689 1821.5M689 1806L673.5 1821.5M681.2 1806L681.2 1821.5" stroke="#800080" stroke-width="4" fill="none"/>
<path d="M676.6 1918.8L692.1 1934.3M692.1 1918.8L676.6 1934.3M684.4 1918.8L684.4 1934.3" stroke="#800080" stroke-width="4" fill="none"/>
<path d="M679.8 2011.6L695.2 2027.1M695.2 2011.6L679.8 2027.1M687.5 2011.6L687.5 2027.1" stroke="#800080" stroke-width="4" fill="none"/>
<path d="M682.9 2063.5L698.4 2079M698.4 2063.5L682.9 2079M690.6 2063.5L690.6 2079" stroke="#800080" stroke-width="4" fill="none"/>
<path d="M686 2092.2L701.5 2107.7M701.5 2092.2L686 2107.7M693.8 2092.2L693.8 2107.7" stroke="#800080" stroke-width="4" fill="none"/>
<path d="M689.2 2123.2L704.7 2138.7M704.7 2123.2L689.2 2138.7M696.9 2123.2L696.9 2138.7" stroke="#800080" stroke-width="4" fill="none"/>
<path d="M692.3 2121L707.8 2136.5M707.8 2121L692.3 2136.5M700.1 2121L700.1 2136.5" stroke="#800080" stroke-width="4" fill="none"/>
<path d="M695.5 2159.6L711 2175.1M711 2159.6L695.5 2175.1M703.2 2159.6L703.2 2175.1" stroke="#800080" stroke-width="4" fill="none"/>
<path d="M698.6 2159.6L714.1 2175.1M714.1 2159.6L698.6 2175.1M706.3 2159.6L706.3 2175.1" stroke="#800080" stroke-width="4" fill="none"/>
<path d="M701.7 2156.9L717.2 2172.4M717.2 2156.9L701.7 2172.4M709.5 2156.9L709.5 2172.4" stroke="#800080" stroke-width="4" fill="none"/>
<path d="M704.9 2159.6L720.4 2175.1M720.4 2159.6L704.9 2175.1M712.6 2159.6L712.6 2175.1" stroke="#800080" stroke-width="4" fill="none"/>
<path d="M708 2161.6L723.5 2177.1M723.5 2161.6L708 2177.1M715.8 2161.6L715.8 2177.1" stroke="#800080" stroke-width="4" fill="none"/>
<path d="M711.1 2163L726.6 2178.5M726.6 2163L711.1 2178.5M718.9 2163L718.9 2178.5" stroke="#800080" stroke-width="4" fill="none"/>
<path d="M714.3 2161.9L729.8 2177.4M729.8 2161.9L714.3 2177.4M722 2161.9L722 2177.4" stroke="#800080" stroke-width="4" fill="none"/>
<path d="M717.4 2163L732.9 2178.5M732.9 2163L717.4 2178.5M725.2 2163L725.2 2178.5" stroke="#800080" stroke-width="4" fill="none"/>
<path d="M720.6 2160.8L736.1 2176.2M736.1 2160.8L720.6 2176.2M728.3 2160.8L728.3 2176.2" stroke="#800080" stroke-width="4" fill="none"/>
<path d="M723.7 2161.9L739.2 2177.4M739.2 2161.9L723.7 2177.4M731.5 2161.9L731.5 2177.4" stroke="#800080" stroke-width="4" fill="none"/>
<path d="M726.8 2161.9L742.3 2177.4M742.3 2161.9L726.8 2177.4M734.6 2161.9L734.6 2177.4" stroke="#800080" stroke-width="4" fill="none"/>
<path d="M758.2 2167L773.8 2182.5M773.8 2167L758.2 2182.5M766 2167L766 2182.5" stroke="#800080" stroke-width="4" fill="none"/>
<path d="M789.6 2164.6L805.1 2180.1M805.1 2164.6L789.6 2180.1M797.4 2164.6L797.4 2180.1" stroke="#800080" stroke-width="4" fill="none"/>
<path d="M821 2141.5L836.5 2157M836.5 2141.5L821 2157M828.8 2141.5L828.8 2157" stroke="#800080" stroke-width="4" fill="none"/>
<path d="M852.4 2144.5L867.9 2160M867.9 2144.5L852.4 2160M860.2 2144.5L860.2 2160" stroke="#800080" stroke-width="4" fill="none"/>
<path d="M883.9 2155L899.4 2170.5M899.4 2155L883.9 2170.5M891.6 2155L891.6 2170.5" stroke="#800080" stroke-width="4" fill="none"/>
<path d="M915.2 2141.5L930.8 2157M930.8 2141.5L915.2 2157M923 2141.5L923 2157" stroke="#800080" stroke-width="4" fill="none"/>
<path d="M978 2164L993.5 2179.5M993.5 2164L978 2179.5M985.8 2164L985.8 2179.5" stroke="#800080" stroke-width="4" fill="none"/>
<path d="M1040.8 2173L1056.3 2188.5M1056.3 2173L1040.8 2188.5M1048.6 2173L1048.6 2188.5" stroke="#800080" stroke-width="4" fill="none"/>
<path d="M1103.7 2158.8L1119.2 2174.3M1119.2 2158.8L1103.7 2174.3M1111.4 2158.8L1111.4 2174.3" stroke="#800080" stroke-width="4" fill="none"/>
<path d="M1166.4 2165.7L1181.9 2181.2M1181.9 2165.7L1166.4 2181.2M1174.2 2165.7L1174.2 2181.2" stroke="#800080" stroke-width="4" fill="none"/>
<path d="M1229.2 2159.6L1244.8 2175.1M1244.8 2159.6L1229.2 2175.1M1237 2159.6L1237 2175.1" stroke="#800080" stroke-width="4" fill="none"/>
<path d="M1292 2174.6L1307.5 2190.1M1307.5 2174.6L1292 2190.1M1299.8 2174.6L1299.8 2190.1" stroke="#800080" stroke-width="4" fill="none"/>
<path d="M1354.8 2167.4L1370.3 2182.9M1370.3 2167.4L1354.8 2182.9M1362.6 2167.4L1362.6 2182.9" stroke="#800080" stroke-width="4" fill="none"/>
<path d="M1417.6 2155.2L1433.1 2170.7M1433.1 2155.2L1417.6 2170.7M1425.4 2155.2L1425.4 2170.7" stroke="#800080" stroke-width="4" fill="none"/>
<path d="M1480.5 2171L1496 2186.5M1496 2171L1480.5 2186.5M1488.2 2171L1488.2 2186.5" stroke="#800080" stroke-width="4" fill="none"/>
<path d="M1543.2 2144.7L1558.8 2160.2M1558.8 2144.7L1543.2 2160.2M1551 2144.7L1551 2160.2" stroke="#800080" stroke-width="4" fill="none"/>
<polyline points="833.1,1608.3 862.3,1593.6 891.6,1594.8 920.8,1568.4 950,1563.5 979.2,1559.3 1008.5,1550.1 1037.7,1538.4 1066.9,1553.8 1096.1,1566.6 1125.3,1575.2 1154.6,1593.6 1183.8,1612.5 1189.6,1621.7 1195.5,1610.1 1201.3,1608.3 1207.2,1602.1 1213,1614.4 1218.9,1610.1 1224.7,1579.5 1230.6,1596.6 1236.4,1562.3 1242.2,1590.5 1248.1,1544 1253.9,1542.7 1259.8,1498.6 1265.6,1502.9 1271.5,1518.2 1277.3,1609.5 1283.2,1684.8 1289,1740.6 1294.9,1811 1300.7,1834.9 1306.5,1839.2 1312.4,1831.8 1318.2,1839.2 1324.1,1875.7 1329.9,1852.4 1335.8,1857.1 1341.6,1864.5 1347.5,1864.3 1352.1,1888.8 1356.8,1877.9 1362.7,1858.6 1369.7,1877.9 1374.3,1857.7 1380.2,1867.3 1386,1864.3 1393.1,1855.5 1397.7,1877.9 1404.7,1858.3 1415.3,1880.4 1476.1,1868.6 1534.5,1854.2" fill="none" stroke="#000000" stroke-width="1.8" stroke-linejoin="round" stroke-linecap="round"/>
<circle cx="833.1" cy="1608.3" r="4" fill="#000000"/>
<circle cx="862.3" cy="1593.6" r="4" fill="#000000"/>
<circle cx="891.6" cy="1594.8" r="4" fill="#000000"/>
<circle cx="920.8" cy="1568.4" r="4" fill="#000000"/>
<circle cx="950" cy="1563.5" r="4" fill="#000000"/>
<circle cx="979.2" cy="1559.3" r="4" fill="#000000"/>
<circle cx="1008.5" cy="1550.1" r="4" fill="#000000"/>
<circle cx="1037.7" cy="1538.4" r="4" fill="#000000"/>
<circle cx="1066.9" cy="1553.8" r="4" fill="#000000"/>
<circle cx="1096.1" cy="1566.6" r="4" fill="#000000"/>
<circle cx="1125.3" cy="1575.2" r="4" fill="#000000"/>
<circle cx="1154.6" cy="1593.6" r="4" fill="#000000"/>
<circle cx="1183.8" cy="1612.5" r="4" fill="#000000"/>
<circle cx="1189.6" cy="1621.7" r="4" fill="#000000"/>
<circle cx="1195.5" cy="1610.1" r="4" fill="#000000"/>
<circle cx="1201.3" cy="1608.3" r="4" fill="#000000"/>
<circle cx="1207.2" cy="1602.1" r="4" fill="#000000"/>
<circle cx="1213" cy="1614.4" r="4" fill="#000000"/>
<circle cx="1218.9" cy="1610.1" r="4" fill="#000000"/>
<circle cx="1224.7" cy="1579.5" r="4" fill="#000000"/>
<circle cx="1230.6" cy="1596.6" r="4" fill="#000000"/>
<circle cx="1236.4" cy="1562.3" r="4" fill="#000000"/>
<circle cx="1242.2" cy="1590.5" r="4" fill="#000000"/>
<circle cx="1248.1" cy="1544" r="4" fill="#000000"/>
<circle cx="1253.9" cy="1542.7" r="4" fill="#000000"/>
<circle cx="1259.8" cy="1498.6" r="4" fill="#000000"/>
<circle cx="1265.6" cy="1502.9" r="4" fill="#000000"/>
<circle cx="1271.5" cy="1518.2" r="4" fill="#000000"/>
<circle cx="1277.3" cy="1609.5" r="4" fill="#000000"/>
<circle cx="1283.2" cy="1684.8" r="4" fill="#000000"/>
<circle cx="1289" cy="1740.6" r="4" fill="#000000"/>
<circle cx="1294.9" cy="1811" r="4" fill="#000000"/>
<circle cx="1300.7" cy="1834.9" r="4" fill="#000000"/>
<circle cx="1306.5" cy="1839.2" r="4" fill="#000000"/>
<circle cx="1312.4" cy="1831.8" r="4" fill="#000000"/>
<circle cx="1318.2" cy="1839.2" r="4" fill="#000000"/>
<circle cx="1324.1" cy="1875.7" r="4" fill="#000000"/>
<circle cx="1329.9" cy="1852.4" r="4" fill="#000000"/>
<circle cx="1335.8" cy="1857.1" r="4" fill="#000000"/>
<circle cx="1341.6" cy="1864.5" r="4" fill="#000000"/>
<circle cx="1347.5" cy="1864.3" r="4" fill="#000000"/>
<circle cx="1352.1" cy="1888.8" r="4" fill="#000000"/>
<circle cx="1356.8" cy="1877.9" r="4" fill="#000000"/>
<circle cx="1362.7" cy="1858.6" r="4" fill="#000000"/>
<circle cx="1369.7" cy="1877.9" r="4" fill="#000000"/>
<circle cx="1374.3" cy="1857.7" r="4" fill="#000000"/>
<circle cx="1380.2" cy="1867.3" r="4" fill="#000000"/>
<circle cx="1386" cy="1864.3" r="4" fill="#000000"/>
<circle cx="1393.1" cy="1855.5" r="4" fill="#000000"/>
<circle cx="1397.7" cy="1877.9" r="4" fill="#000000"/>
<circle cx="1404.7" cy="1858.3" r="4" fill="#000000"/>
<circle cx="1415.3" cy="1880.4" r="4" fill="#000000"/>
<circle cx="1476.1" cy="1868.6" r="4" fill="#000000"/>
<circle cx="1534.5" cy="1854.2" r="4" fill="#000000"/>
<polyline points="833.1,1520.1 862.3,1511.5 891.6,1502.3 920.8,1495.6 950,1486.4 979.2,1487 1008.5,1481.5 1037.7,1480.9 1066.9,1481.5 1096.1,1487 1125.3,1493.1 1154.6,1502.3 1183.8,1507.2 1189.6,1504.1 1195.5,1504.1 1201.3,1504.8 1207.2,1504.1 1213,1490.7 1218.9,1500.5 1224.7,1483.3 1230.6,1485.1 1236.4,1472.9 1242.2,1467.4 1248.1,1461.3 1253.9,1440.4 1259.8,1420.2 1265.6,1405.5 1271.5,1387.8 1277.3,1363.9 1283.2,1347.3 1289,1336.9 1294.9,1363.9 1300.7,1412.9 1306.5,1488.2 1312.4,1581.9 1318.2,1670.7 1324.1,1733.2 1329.9,1784.7 1335.8,1813.4 1341.6,1829.4 1347.5,1846.5 1353.3,1845.3 1359.2,1866.7 1365,1866.7 1370.8,1865.2 1376.7,1866.7 1382.5,1867.8 1388.4,1868.6 1394.2,1868 1400.1,1868.6 1405.9,1867.3 1411.8,1868 1417.6,1868 1476.1,1870.8 1534.5,1869.5" fill="none" stroke="#800080" stroke-width="1.8" stroke-linejoin="round" stroke-linecap="round"/>
<path d="M827.6 1514.6L838.6 1525.6M838.6 1514.6L827.6 1525.6M833.1 1514.6L833.1 1525.6" stroke="#800080" stroke-width="2.9" fill="none"/>
<path d="M856.8 1506L867.8 1517M867.8 1506L856.8 1517M862.3 1506L862.3 1517" stroke="#800080" stroke-width="2.9" fill="none"/>
<path d="M886.1 1496.8L897.1 1507.8M897.1 1496.8L886.1 1507.8M891.6 1496.8L891.6 1507.8" stroke="#800080" stroke-width="2.9" fill="none"/>
<path d="M915.3 1490.1L926.3 1501.1M926.3 1490.1L915.3 1501.1M920.8 1490.1L920.8 1501.1" stroke="#800080" stroke-width="2.9" fill="none"/>
<path d="M944.5 1480.9L955.5 1491.9M955.5 1480.9L944.5 1491.9M950 1480.9L950 1491.9" stroke="#800080" stroke-width="2.9" fill="none"/>
<path d="M973.7 1481.5L984.7 1492.5M984.7 1481.5L973.7 1492.5M979.2 1481.5L979.2 1492.5" stroke="#800080" stroke-width="2.9" fill="none"/>
<path d="M1003 1476L1014 1487M1014 1476L1003 1487M1008.5 1476L1008.5 1487" stroke="#800080" stroke-width="2.9" fill="none"/>
<path d="M1032.2 1475.4L1043.2 1486.4M1043.2 1475.4L1032.2 1486.4M1037.7 1475.4L1037.7 1486.4" stroke="#800080" stroke-width="2.9" fill="none"/>
<path d="M1061.4 1476L1072.4 1487M1072.4 1476L1061.4 1487M1066.9 1476L1066.9 1487" stroke="#800080" stroke-width="2.9" fill="none"/>
<path d="M1090.6 1481.5L1101.6 1492.5M1101.6 1481.5L1090.6 1492.5M1096.1 1481.5L1096.1 1492.5" stroke="#800080" stroke-width="2.9" fill="none"/>
<path d="M1119.8 1487.6L1130.8 1498.6M1130.8 1487.6L1119.8 1498.6M1125.3 1487.6L1125.3 1498.6" stroke="#800080" stroke-width="2.9" fill="none"/>
<path d="M1149.1 1496.8L1160.1 1507.8M1160.1 1496.8L1149.1 1507.8M1154.6 1496.8L1154.6 1507.8" stroke="#800080" stroke-width="2.9" fill="none"/>
<path d="M1178.3 1501.7L1189.3 1512.7M1189.3 1501.7L1178.3 1512.7M1183.8 1501.7L1183.8 1512.7" stroke="#800080" stroke-width="2.9" fill="none"/>
<path d="M1184.1 1498.6L1195.1 1509.6M1195.1 1498.6L1184.1 1509.6M1189.6 1498.6L1189.6 1509.6" stroke="#800080" stroke-width="2.9" fill="none"/>
<path d="M1190 1498.6L1201 1509.6M1201 1498.6L1190 1509.6M1195.5 1498.6L1195.5 1509.6" stroke="#800080" stroke-width="2.9" fill="none"/>
<path d="M1195.8 1499.2L1206.8 1510.2M1206.8 1499.2L1195.8 1510.2M1201.3 1499.2L1201.3 1510.2" stroke="#800080" stroke-width="2.9" fill="none"/>
<path d="M1201.7 1498.6L1212.7 1509.6M1212.7 1498.6L1201.7 1509.6M1207.2 1498.6L1207.2 1509.6" stroke="#800080" stroke-width="2.9" fill="none"/>
<path d="M1207.5 1485.2L1218.5 1496.2M1218.5 1485.2L1207.5 1496.2M1213 1485.2L1213 1496.2" stroke="#800080" stroke-width="2.9" fill="none"/>
<path d="M1213.4 1495L1224.4 1506M1224.4 1495L1213.4 1506M1218.9 1495L1218.9 1506" stroke="#800080" stroke-width="2.9" fill="none"/>
<path d="M1219.2 1477.8L1230.2 1488.8M1230.2 1477.8L1219.2 1488.8M1224.7 1477.8L1224.7 1488.8" stroke="#800080" stroke-width="2.9" fill="none"/>
<path d="M1225.1 1479.6L1236.1 1490.6M1236.1 1479.6L1225.1 1490.6M1230.6 1479.6L1230.6 1490.6" stroke="#800080" stroke-width="2.9" fill="none"/>
<path d="M1230.9 1467.4L1241.9 1478.4M1241.9 1467.4L1230.9 1478.4M1236.4 1467.4L1236.4 1478.4" stroke="#800080" stroke-width="2.9" fill="none"/>
<path d="M1236.8 1461.9L1247.8 1472.9M1247.8 1461.9L1236.8 1472.9M1242.2 1461.9L1242.2 1472.9" stroke="#800080" stroke-width="2.9" fill="none"/>
<path d="M1242.6 1455.8L1253.6 1466.8M1253.6 1455.8L1242.6 1466.8M1248.1 1455.8L1248.1 1466.8" stroke="#800080" stroke-width="2.9" fill="none"/>
<path d="M1248.4 1434.9L1259.4 1445.9M1259.4 1434.9L1248.4 1445.9M1253.9 1434.9L1253.9 1445.9" stroke="#800080" stroke-width="2.9" fill="none"/>
<path d="M1254.3 1414.7L1265.3 1425.7M1265.3 1414.7L1254.3 1425.7M1259.8 1414.7L1259.8 1425.7" stroke="#800080" stroke-width="2.9" fill="none"/>
<path d="M1260.1 1400L1271.1 1411M1271.1 1400L1260.1 1411M1265.6 1400L1265.6 1411" stroke="#800080" stroke-width="2.9" fill="none"/>
<path d="M1266 1382.3L1277 1393.3M1277 1382.3L1266 1393.3M1271.5 1382.3L1271.5 1393.3" stroke="#800080" stroke-width="2.9" fill="none"/>
<path d="M1271.8 1358.4L1282.8 1369.4M1282.8 1358.4L1271.8 1369.4M1277.3 1358.4L1277.3 1369.4" stroke="#800080" stroke-width="2.9" fill="none"/>
<path d="M1277.7 1341.8L1288.7 1352.8M1288.7 1341.8L1277.7 1352.8M1283.2 1341.8L1283.2 1352.8" stroke="#800080" stroke-width="2.9" fill="none"/>
<path d="M1283.5 1331.4L1294.5 1342.4M1294.5 1331.4L1283.5 1342.4M1289 1331.4L1289 1342.4" stroke="#800080" stroke-width="2.9" fill="none"/>
<path d="M1289.4 1358.4L1300.4 1369.4M1300.4 1358.4L1289.4 1369.4M1294.9 1358.4L1294.9 1369.4" stroke="#800080" stroke-width="2.9" fill="none"/>
<path d="M1295.2 1407.4L1306.2 1418.4M1306.2 1407.4L1295.2 1418.4M1300.7 1407.4L1300.7 1418.4" stroke="#800080" stroke-width="2.9" fill="none"/>
<path d="M1301 1482.7L1312 1493.7M1312 1482.7L1301 1493.7M1306.5 1482.7L1306.5 1493.7" stroke="#800080" stroke-width="2.9" fill="none"/>
<path d="M1306.9 1576.4L1317.9 1587.4M1317.9 1576.4L1306.9 1587.4M1312.4 1576.4L1312.4 1587.4" stroke="#800080" stroke-width="2.9" fill="none"/>
<path d="M1312.7 1665.2L1323.7 1676.2M1323.7 1665.2L1312.7 1676.2M1318.2 1665.2L1318.2 1676.2" stroke="#800080" stroke-width="2.9" fill="none"/>
<path d="M1318.6 1727.7L1329.6 1738.7M1329.6 1727.7L1318.6 1738.7M1324.1 1727.7L1324.1 1738.7" stroke="#800080" stroke-width="2.9" fill="none"/>
<path d="M1324.4 1779.2L1335.4 1790.2M1335.4 1779.2L1324.4 1790.2M1329.9 1779.2L1329.9 1790.2" stroke="#800080" stroke-width="2.9" fill="none"/>
<path d="M1330.3 1807.9L1341.3 1818.9M1341.3 1807.9L1330.3 1818.9M1335.8 1807.9L1335.8 1818.9" stroke="#800080" stroke-width="2.9" fill="none"/>
<path d="M1336.1 1823.9L1347.1 1834.9M1347.1 1823.9L1336.1 1834.9M1341.6 1823.9L1341.6 1834.9" stroke="#800080" stroke-width="2.9" fill="none"/>
<path d="M1342 1841L1353 1852M1353 1841L1342 1852M1347.5 1841L1347.5 1852" stroke="#800080" stroke-width="2.9" fill="none"/>
<path d="M1347.8 1839.8L1358.8 1850.8M1358.8 1839.8L1347.8 1850.8M1353.3 1839.8L1353.3 1850.8" stroke="#800080" stroke-width="2.9" fill="none"/>
<path d="M1353.7 1861.2L1364.7 1872.2M1364.7 1861.2L1353.7 1872.2M1359.2 1861.2L1359.2 1872.2" stroke="#800080" stroke-width="2.9" fill="none"/>
<path d="M1359.5 1861.2L1370.5 1872.2M1370.5 1861.2L1359.5 1872.2M1365 1861.2L1365 1872.2" stroke="#800080" stroke-width="2.9" fill="none"/>
<path d="M1365.3 1859.7L1376.3 1870.7M1376.3 1859.7L1365.3 1870.7M1370.8 1859.7L1370.8 1870.7" stroke="#800080" stroke-width="2.9" fill="none"/>
<path d="M1371.2 1861.2L1382.2 1872.2M1382.2 1861.2L1371.2 1872.2M1376.7 1861.2L1376.7 1872.2" stroke="#800080" stroke-width="2.9" fill="none"/>
<path d="M1377 1862.3L1388 1873.3M1388 1862.3L1377 1873.3M1382.5 1862.3L1382.5 1873.3" stroke="#800080" stroke-width="2.9" fill="none"/>
<path d="M1382.9 1863.1L1393.9 1874.1M1393.9 1863.1L1382.9 1874.1M1388.4 1863.1L1388.4 1874.1" stroke="#800080" stroke-width="2.9" fill="none"/>
<path d="M1388.7 1862.5L1399.7 1873.5M1399.7 1862.5L1388.7 1873.5M1394.2 1862.5L1394.2 1873.5" stroke="#800080" stroke-width="2.9" fill="none"/>
<path d="M1394.6 1863.1L1405.6 1874.1M1405.6 1863.1L1394.6 1874.1M1400.1 1863.1L1400.1 1874.1" stroke="#800080" stroke-width="2.9" fill="none"/>
<path d="M1400.4 1861.8L1411.4 1872.8M1411.4 1861.8L1400.4 1872.8M1405.9 1861.8L1405.9 1872.8" stroke="#800080" stroke-width="2.9" fill="none"/>
<path d="M1406.3 1862.5L1417.3 1873.5M1417.3 1862.5L1406.3 1873.5M1411.8 1862.5L1411.8 1873.5" stroke="#800080" stroke-width="2.9" fill="none"/>
<path d="M1412.1 1862.5L1423.1 1873.5M1423.1 1862.5L1412.1 1873.5M1417.6 1862.5L1417.6 1873.5" stroke="#800080" stroke-width="2.9" fill="none"/>
<path d="M1470.6 1865.3L1481.6 1876.3M1481.6 1865.3L1470.6 1876.3M1476.1 1865.3L1476.1 1876.3" stroke="#800080" stroke-width="2.9" fill="none"/>
<path d="M1529 1864L1540 1875M1540 1864L1529 1875M1534.5 1864L1534.5 1875" stroke="#800080" stroke-width="2.9" fill="none"/>
<path d="M834 1322V1929H1535" fill="none" stroke="#000" stroke-width="1.8"/>
<path d="M824 1928.6H834M824 1867.3H834M824 1806.1H834M824 1744.8H834M824 1683.6H834M824 1622.3H834M824 1561.1H834M824 1499.8H834M824 1438.6H834M824 1377.3H834M833.1 1929V1939M891.6 1929V1938M950 1929V1938M1008.5 1929V1938M1066.9 1929V1939M1125.3 1929V1938M1183.8 1929V1938M1242.2 1929V1938M1300.7 1929V1939M1359.2 1929V1938M1417.6 1929V1938M1476.1 1929V1938M1534.5 1929V1939" stroke="#000" stroke-width="1.8" fill="none"/>
<text x="808" y="1940.1" font-size="33" text-anchor="end"><tspan font-size="25" dy="-0.5">−</tspan><tspan dy="0.5" dx="0.5">0.0001</tspan></text>
<text x="808" y="1817.6" font-size="33" text-anchor="end">0.0001</text>
<text x="808" y="1695.1" font-size="33" text-anchor="end">0.0003</text>
<text x="808" y="1572.6" font-size="33" text-anchor="end">0.0005</text>
<text x="808" y="1450.1" font-size="33" text-anchor="end">0.0007</text>
<text x="833.1" y="1989" font-size="33" text-anchor="middle">2</text>
<text x="1066.9" y="1989" font-size="33" text-anchor="middle">4</text>
<text x="1300.7" y="1989" font-size="33" text-anchor="middle">6</text>
<text x="1534.5" y="1989" font-size="33" text-anchor="middle">8</text>
<path d="M875 1362.3H913" stroke="#000000" stroke-width="1.8"/>
<circle cx="894" cy="1362.3" r="4" fill="#000000"/>
<text x="921" y="1373.1" font-size="33">0.5 Hz</text>
<path d="M875 1427H913" stroke="#800080" stroke-width="1.8"/>
<path d="M889 1422L899 1432M899 1422L889 1432M894 1422L894 1432" stroke="#800080" stroke-width="2.6" fill="none"/>
<text x="921" y="1437.8" font-size="33">500 Hz</text>
<rect x="295" y="1185" width="1256" height="1095" fill="none" stroke="#000" stroke-width="4"/>
<path d="M278 2279H295M282 2168.5H295M278 2058H295M282 1947.5H295M278 1837H295M282 1726.5H295M278 1616H295M282 1505.5H295M278 1395H295M282 1284.5H295M295 2280V2297M357.8 2280V2292M420.6 2280V2292M483.4 2280V2292M546.2 2280V2292M609 2280V2297M671.8 2280V2292M734.6 2280V2292M797.4 2280V2292M860.2 2280V2292M923 2280V2297M985.8 2280V2292M1048.6 2280V2292M1111.4 2280V2292M1174.2 2280V2292M1237 2280V2297M1299.8 2280V2292M1362.6 2280V2292M1425.4 2280V2292M1488.2 2280V2292M1551 2280V2297" stroke="#000" stroke-width="4" fill="none"/>
<text x="254" y="2296.5" font-size="52" text-anchor="end"><tspan font-size="40" dy="-1.8">−</tspan><tspan dy="1.8" dx="4">0.0001</tspan></text>
<text x="254" y="2075.5" font-size="52" text-anchor="end">0.0001</text>
<text x="254" y="1854.5" font-size="52" text-anchor="end">0.0003</text>
<text x="254" y="1633.5" font-size="52" text-anchor="end">0.0005</text>
<text x="254" y="1412.5" font-size="52" text-anchor="end">0.0007</text>
<text x="295" y="2375" font-size="53" text-anchor="middle">0</text>
<text x="609" y="2375" font-size="53" text-anchor="middle">5</text>
<text x="923" y="2375" font-size="53" text-anchor="middle">10</text>
<text x="1237" y="2375" font-size="53" text-anchor="middle">15</text>
<text x="1551" y="2375" font-size="53" text-anchor="middle">20</text>
<text x="871" y="2456" font-size="58" text-anchor="middle">Temperature (K)</text>
<text transform="translate(79,1965) rotate(-90) scale(1.2,1)" font-size="60" font-style="italic">χ</text>
<text transform="translate(79,1922) rotate(-90)" font-size="60">′′</text>
<text transform="translate(79,1880) rotate(-90)" font-size="58.6">(emu × mol<tspan dy="-23" font-size="39">−1</tspan><tspan dy="23"> × Oe</tspan><tspan dy="-23" font-size="39">−1</tspan><tspan dy="23">)</tspan></text>
<path d="M342 1802.7H399" stroke="#000000" stroke-width="4"/>
<circle cx="369" cy="1802.7" r="6.5" fill="#000000"/>
<text x="412" y="1819.7" font-size="53">0.5 Hz</text>
<path d="M342 1885.9H399" stroke="#ff0000" stroke-width="4"/>
<rect x="362.8" y="1879.7" width="12.5" height="12.5" fill="#ff0000"/>
<text x="412" y="1902.9" font-size="53">2 Hz</text>
<path d="M342 1969.1H399" stroke="#0000ff" stroke-width="4"/>
<polygon points="369,1960.3 361.2,1975 376.8,1975" fill="#0000ff"/>
<text x="412" y="1986.1" font-size="53">7 Hz</text>
<path d="M342 2052.3H399" stroke="#008000" stroke-width="4"/>
<polygon points="369,2044.6 376.8,2052.3 369,2060.1 361.2,2052.3" fill="#008000"/>
<text x="412" y="2069.3" font-size="53">25 Hz</text>
<path d="M342 2135.5H399" stroke="#800000" stroke-width="4"/>
<circle cx="369" cy="2135.5" r="4.1" fill="#fff" stroke="#800000" stroke-width="4.2"/>
<text x="412" y="2152.5" font-size="53">110 Hz</text>
<path d="M342 2218.7H399" stroke="#800080" stroke-width="4"/>
<path d="M361.2 2210.9L376.8 2226.4M376.8 2210.9L361.2 2226.4M369 2210.9L369 2226.4" stroke="#800080" stroke-width="4" fill="none"/>
<text x="412" y="2235.7" font-size="53">500 Hz</text>
<text x="761" y="1269.5" font-size="58">(Lu<tspan font-size="39" dy="7.5">0.5</tspan><tspan dy="-7.5">Mn</tspan><tspan font-size="39" dy="7.5">0.5</tspan><tspan dy="-7.5">)(Mn</tspan><tspan font-size="39" dy="7.5">0.25</tspan><tspan dy="-7.5">Ti</tspan><tspan font-size="39" dy="7.5">0.75</tspan><tspan dy="-7.5">)O</tspan><tspan font-size="39" dy="7.5">3</tspan></text>
<text x="1390" y="2076" font-size="76">(b)</text>
</svg></body></html>
